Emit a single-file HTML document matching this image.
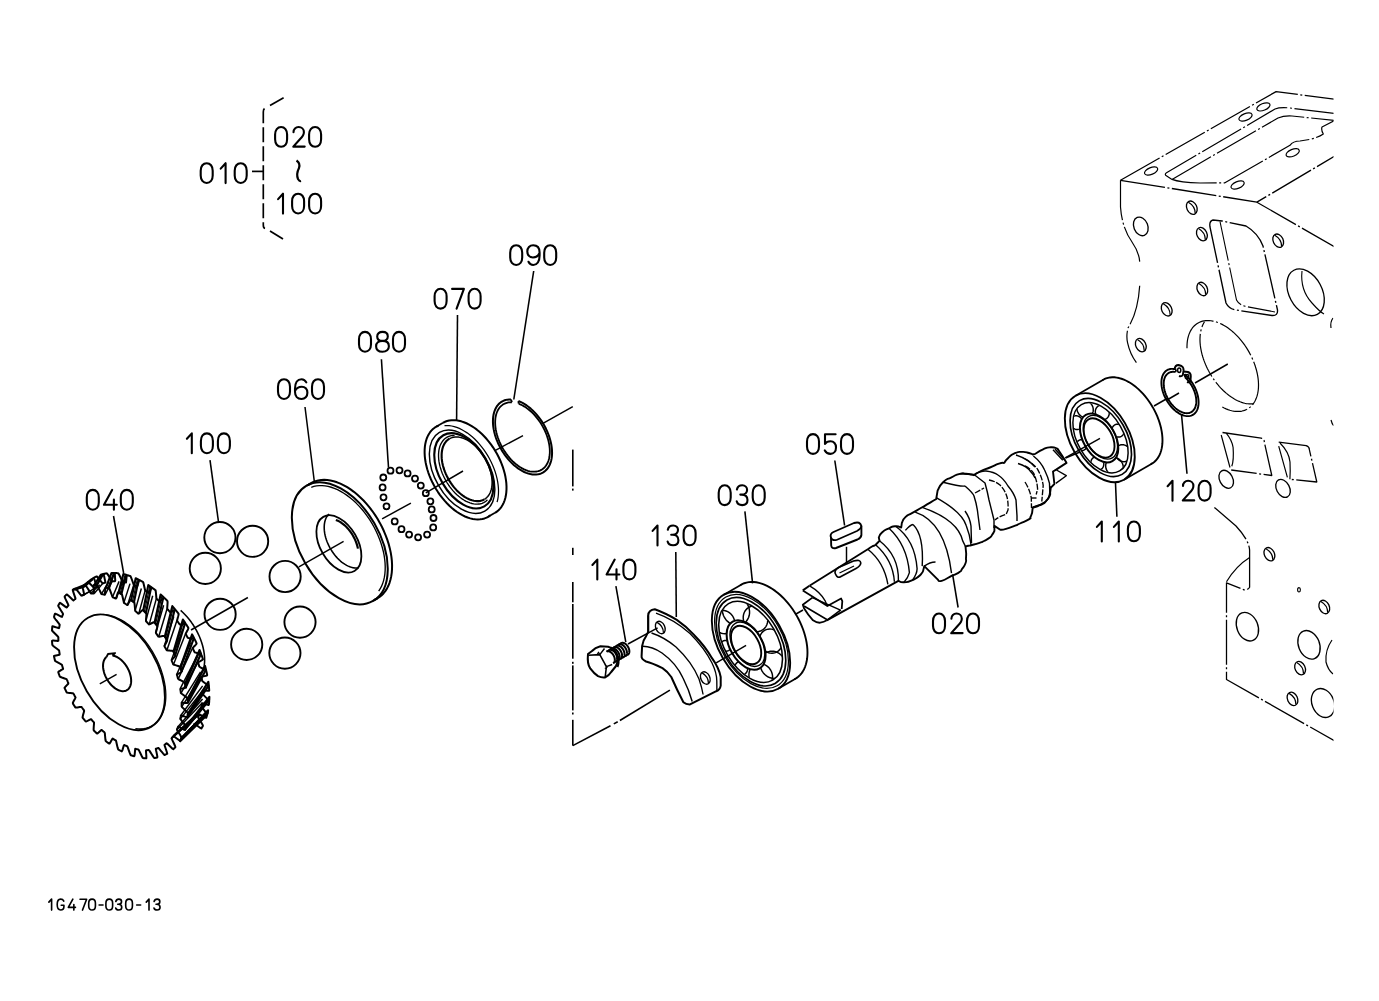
<!DOCTYPE html>
<html><head><meta charset="utf-8"><style>html,body{margin:0;padding:0;background:#fff;width:1379px;height:1001px;overflow:hidden}</style></head>
<body><svg width="1379" height="1001" viewBox="0 0 1379 1001" style="display:block">
<g fill="none" stroke="#000" stroke-width="1.68" stroke-linecap="butt" stroke-linejoin="round">
<defs><clipPath id="blkclip"><rect x="1100" y="80" width="233.5" height="680"/></clipPath><path id="g0" d="M8 1C11.6 1 14 4 14 8.5L14 13.3C14 17.8 11.6 20.8 8 20.8C4.4 20.8 2 17.8 2 13.3L2 8.5C2 4 4.4 1 8 1Z"/><path id="g1" d="M5.0 6.4L9.9 1L9.9 20.9"/><path id="g2" d="M3.4 6.2C3.4 3 5.6 1 8.5 1C11.5 1 13.8 3 13.8 6.2C13.8 9 12.3 10.8 9.8 13.3L3.2 20.6L14.6 20.6"/><path id="g3" d="M3.2 5.2C3.8 2.5 5.8 1 8.6 1C11.5 1 13.4 3 13.4 5.6C13.4 8.6 11.2 10.3 7.8 10.3L6.6 10.3M7.8 10.3C11.5 10.3 13.8 12.5 13.8 15.8C13.8 19 11.5 20.8 8.5 20.8C5.6 20.8 3.6 19.3 3 17"/><path id="g4" d="M10.3 1L2.2 15.9L15 15.9M12.1 10.7L12.1 20.9"/><path id="g5" d="M13.6 1.1L3 1.1L3 10.8M3 10.8C4.2 9 6 8.2 8.5 8.2C11.8 8.2 14 10.5 14 14.3C14 18.3 11.6 20.8 8.5 20.8C5.8 20.8 3.9 19.3 2.8 17.3"/><path id="g6" d="M13.3 4.2C12.3 2.2 10.6 1 8.5 1C4.5 1 2 4.5 2 10.5L2 13.5C2 18 4.5 20.8 8.5 20.8C12 20.8 14.4 18.3 14.4 14.5C14.4 10.8 12 8.5 8.8 8.5C5.5 8.5 3.2 10.3 2 12.8"/><path id="g7" d="M2.5 1.1L14.3 1.1L7 20.9"/><path id="g8" d="M8.5 10C5.3 10 3.2 8.3 3.2 5.5C3.2 2.7 5.3 1 8.5 1C11.7 1 13.8 2.7 13.8 5.5C13.8 8.3 11.7 10 8.5 10C4.6 10 2.1 12 2.1 15.3C2.1 18.7 4.6 20.8 8.5 20.8C12.4 20.8 14.9 18.7 14.9 15.3C14.9 12 12.4 10 8.5 10Z"/><path id="g9" d="M3.3 17.6C4.3 19.6 6 20.8 8 20.8C12 20.8 14.4 17.3 14.4 11.3L14.4 8.3C14.4 3.8 12 1 8 1C4.5 1 2.1 3.5 2.1 7.3C2.1 11 4.5 13.3 7.7 13.3C11 13.3 13.3 11.3 14.4 8.8"/></defs>
<g stroke-width="2.1" stroke-linecap="round">
<use href="#g0" x="198.7" y="162.2"/>
<use href="#g1" x="215.7" y="162.2"/>
<use href="#g0" x="232.7" y="162.2"/>
<use href="#g0" x="273.1" y="126"/>
<use href="#g2" x="290.1" y="126"/>
<use href="#g0" x="307.1" y="126"/>
<use href="#g1" x="273.1" y="192.7"/>
<use href="#g0" x="290.1" y="192.7"/>
<use href="#g0" x="307.1" y="192.7"/>
<use href="#g0" x="508.2" y="244.2"/>
<use href="#g9" x="525.2" y="244.2"/>
<use href="#g0" x="542.2" y="244.2"/>
<use href="#g0" x="432.6" y="287.8"/>
<use href="#g7" x="449.6" y="287.8"/>
<use href="#g0" x="466.6" y="287.8"/>
<use href="#g0" x="357" y="330.9"/>
<use href="#g8" x="374" y="330.9"/>
<use href="#g0" x="391" y="330.9"/>
<use href="#g0" x="276" y="378.2"/>
<use href="#g6" x="293" y="378.2"/>
<use href="#g0" x="310" y="378.2"/>
<use href="#g1" x="181.9" y="432.4"/>
<use href="#g0" x="198.9" y="432.4"/>
<use href="#g0" x="215.9" y="432.4"/>
<use href="#g0" x="84.8" y="488.9"/>
<use href="#g4" x="101.8" y="488.9"/>
<use href="#g0" x="118.8" y="488.9"/>
<use href="#g0" x="805" y="433.1"/>
<use href="#g5" x="822" y="433.1"/>
<use href="#g0" x="839" y="433.1"/>
<use href="#g0" x="716.7" y="484.3"/>
<use href="#g3" x="733.7" y="484.3"/>
<use href="#g0" x="750.7" y="484.3"/>
<use href="#g1" x="647.6" y="524.5"/>
<use href="#g3" x="664.6" y="524.5"/>
<use href="#g0" x="681.6" y="524.5"/>
<use href="#g1" x="587.4" y="558.6"/>
<use href="#g4" x="604.4" y="558.6"/>
<use href="#g0" x="621.4" y="558.6"/>
<use href="#g0" x="931" y="612.5"/>
<use href="#g2" x="948" y="612.5"/>
<use href="#g0" x="965" y="612.5"/>
<use href="#g1" x="1091.9" y="520.5"/>
<use href="#g1" x="1108.9" y="520.5"/>
<use href="#g0" x="1125.9" y="520.5"/>
<use href="#g1" x="1162.6" y="479.8"/>
<use href="#g2" x="1179.6" y="479.8"/>
<use href="#g0" x="1196.6" y="479.8"/>
</g>
<defs><path id="gG" d="M13.8 4.5C12.8 2.3 10.8 1 8 1C4.2 1 2 4.5 2 10.9C2 17.3 4.4 20.8 8.2 20.8C11.6 20.8 14 18.2 14 14.3L14 12.2L9.2 12.2"/><path id="g-" d="M4.5 11.5L11.5 11.5"/></defs>
<g stroke-width="2.9" stroke-linecap="round">
<use href="#g1" transform="translate(46.06,898.6) scale(0.56,0.55)"/>
<use href="#gG" transform="translate(56.08,898.6) scale(0.56,0.55)"/>
<use href="#g4" transform="translate(67.07,898.6) scale(0.56,0.55)"/>
<use href="#g7" transform="translate(78.6,898.6) scale(0.56,0.55)"/>
<use href="#g0" transform="translate(87.58,898.6) scale(0.56,0.55)"/>
<use href="#g-" transform="translate(96.58,898.6) scale(0.56,0.55)"/>
<use href="#g0" transform="translate(104.78,898.6) scale(0.56,0.55)"/>
<use href="#g3" transform="translate(114.02,898.6) scale(0.56,0.55)"/>
<use href="#g0" transform="translate(124.58,898.6) scale(0.56,0.55)"/>
<use href="#g-" transform="translate(134.18,898.6) scale(0.56,0.55)"/>
<use href="#g1" transform="translate(143.46,898.6) scale(0.56,0.55)"/>
<use href="#g3" transform="translate(152.32,898.6) scale(0.56,0.55)"/>
</g>
<g stroke-width="1.68">
<path d="M283.6 97.8 L270 105.5" />
<path d="M264.5 108.5 Q263.3 109.5 263.3 112 L263.3 225 Q263.3 228 265 228.5" stroke-dasharray="15 4"/>
<path d="M270 231 L283 239" />
<line x1="252" y1="171.4" x2="263.3" y2="171.4" />
</g>
<path d="M296.5 160.5 Q300.5 163 299 168 Q296 174 298 179 Q299.5 181.5 301 181" stroke-width="2.2" />
<g stroke-width="1.57">
<line x1="533.7" y1="271" x2="513.8" y2="399.5" />
<line x1="457.5" y1="315" x2="456.6" y2="420" />
<line x1="381.4" y1="359.2" x2="388.5" y2="467.5" />
<line x1="305" y1="407" x2="314.5" y2="483" />
<line x1="210" y1="460.1" x2="218.5" y2="522" />
<line x1="113.5" y1="516" x2="123.6" y2="573" />
<line x1="834.8" y1="460.5" x2="844.6" y2="525.5" />
<line x1="744.9" y1="511.3" x2="752.6" y2="583.4" />
<line x1="675.8" y1="551.9" x2="676.3" y2="616.9" />
<line x1="615.9" y1="586.1" x2="625.8" y2="642.1" />
<line x1="958.1" y1="607.5" x2="952.6" y2="574.4" />
<line x1="1116.9" y1="516.8" x2="1115.5" y2="483" />
<line x1="1187" y1="473.7" x2="1181.5" y2="414.5" />
</g>
<g stroke-width="1.46">
<line x1="99.8" y1="683.8" x2="116.6" y2="674.3" />
<line x1="191" y1="630" x2="247.9" y2="597.5" />
<line x1="298.9" y1="566.9" x2="343.6" y2="541.3" />
<line x1="382.1" y1="518.8" x2="410.9" y2="503.1" />
<line x1="425.8" y1="492.8" x2="463" y2="471" />
<line x1="495.4" y1="450.3" x2="523" y2="435.6" />
<line x1="542.5" y1="423.7" x2="572.8" y2="406.6" />
<line x1="628" y1="644" x2="657.6" y2="627.9" />
<line x1="716.2" y1="662.9" x2="746.1" y2="645.3" />
<line x1="1065.2" y1="457.9" x2="1100" y2="438.3" />
<line x1="1154" y1="406" x2="1168" y2="398" />
<line x1="1167" y1="400" x2="1179" y2="393" />
<line x1="1195" y1="383" x2="1227.8" y2="364" />
<line x1="1065.6" y1="458" x2="1080" y2="452" />
<line x1="796" y1="614" x2="803" y2="610" />
</g>
<g stroke-width="1.62">
<line x1="572.8" y1="449.6" x2="572.8" y2="486.4" />
<line x1="572.8" y1="488.6" x2="572.8" y2="490.6" />
<line x1="572.8" y1="547.8" x2="572.8" y2="555" />
<line x1="572.8" y1="582" x2="572.8" y2="602.3" />
<line x1="572.8" y1="604" x2="572.8" y2="658.7" />
<line x1="572.8" y1="661.8" x2="572.8" y2="663.8" />
<line x1="572.8" y1="665.4" x2="572.8" y2="710.4" />
<line x1="572.8" y1="712.5" x2="572.8" y2="714.5" />
<line x1="572.8" y1="719.8" x2="572.8" y2="745.6" />
<path d="M572.8 745.6 L610.5 725.8" />
<line x1="613.8" y1="723.9" x2="617.7" y2="721.7" />
<line x1="619.9" y1="720.5" x2="669.9" y2="690.1" />
</g>
<g stroke-width="1.9">
<circle cx="219.9" cy="537.6" r="15.6" />
<circle cx="252.6" cy="541.3" r="15.6" />
<circle cx="205.3" cy="568.4" r="15.6" />
<circle cx="285.1" cy="576.5" r="15.6" />
<circle cx="220.1" cy="614.3" r="15.6" />
<circle cx="300" cy="622.1" r="15.6" />
<circle cx="246.7" cy="644.4" r="15.6" />
<circle cx="284.9" cy="653.1" r="15.6" />
</g>
<g stroke-width="1.79">
<circle cx="390.5" cy="470.7" r="3" />
<circle cx="399.5" cy="470.3" r="3" />
<circle cx="407.6" cy="473.4" r="3" />
<circle cx="415" cy="478.6" r="3" />
<circle cx="420.8" cy="485.6" r="3" />
<circle cx="425.8" cy="493.2" r="3" />
<circle cx="430.4" cy="501.3" r="3" />
<circle cx="431.7" cy="509.4" r="3" />
<circle cx="433.5" cy="518" r="3" />
<circle cx="433.2" cy="527.4" r="3" />
<circle cx="427.1" cy="534.6" r="3" />
<circle cx="418.1" cy="537.3" r="3" />
<circle cx="409.1" cy="534.6" r="3" />
<circle cx="401.5" cy="529.2" r="3" />
<circle cx="394.7" cy="521.4" r="3" />
<circle cx="386.5" cy="506.3" r="3" />
<circle cx="383.5" cy="497.3" r="3" />
<circle cx="382.6" cy="487.4" r="3" />
<circle cx="383.3" cy="477.5" r="3" />
</g>
<ellipse cx="339.8" cy="543.3" rx="66.5" ry="39.9" transform="rotate(60 339.8 543.3)" stroke-width="2.01" />
<path d="M308 485.17 L310.31 483.55 L312.79 482.22 L315.42 481.18 L318.2 480.44 L321.11 479.99 L324.14 479.85 L327.26 480.01 L330.46 480.48 L333.74 481.25 L337.06 482.31 L340.43 483.66 L343.81 485.3 L347.19 487.21 L350.55 489.39 L353.89 491.83 L357.17 494.51 L360.39 497.42 L363.53 500.54 L366.58 503.87 L369.51 507.38 L372.31 511.05 L374.98 514.88 L377.49 518.83 L379.84 522.89 L382 527.05 L383.98 531.27 L385.76 535.53 L387.34 539.83 L388.7 544.13 L389.83 548.41 L390.74 552.65 L391.42 556.84 L391.86 560.94 L392.07 564.95 L392.03 568.83 L391.76 572.58 L391.25 576.16 L390.51 579.58 L389.54 582.79 L388.34 585.8 L386.92 588.59 L385.28 591.14 L383.44 593.43 L381.41 595.47 L379.19 597.23 L376.8 598.72 L374.24 599.91" stroke-width="2.01" />
<path d="M311.27 487.3 L313.81 486.46 L316.47 485.89 L319.25 485.6 L322.12 485.59 L325.09 485.86 L328.12 486.42 L331.21 487.25 L334.34 488.35 L337.5 489.72 L340.67 491.36 L343.84 493.24 L346.99 495.37 L350.1 497.73 L353.16 500.32 L356.16 503.11 L359.07 506.1 L361.9 509.27 L364.61 512.61 L367.21 516.1 L369.67 519.72 L371.98 523.45 L374.14 527.28 L376.13 531.19 L377.94 535.16 L379.57 539.17 L381.01 543.19 L382.24 547.22 L383.27 551.23 L384.08 555.2 L384.68 559.11 L385.06 562.95 L385.22 566.69 L385.16 570.31 L384.88 573.81 L384.38 577.15 L383.66 580.33 L382.73 583.33 L381.59 586.14 L380.24 588.73 L378.7 591.11" stroke-width="1.35" />
<line x1="373.05" y1="600.89" x2="377.38" y2="598.39" stroke-width="1.79" />
<line x1="306.55" y1="485.71" x2="310.88" y2="483.21" stroke-width="1.79" />
<ellipse cx="338.9" cy="543.9" rx="31.2" ry="18.72" transform="rotate(60 338.9 543.9)" stroke-width="1.79" />
<path d="M358.58 567.78 L357.22 567.95 L355.81 567.99 L354.35 567.89 L352.86 567.65 L351.33 567.27 L349.79 566.76 L348.22 566.12 L346.65 565.34 L345.08 564.44 L343.52 563.41 L341.98 562.27 L340.45 561.02 L338.96 559.66 L337.51 558.2 L336.1 556.65 L334.74 555.02 L333.44 553.31 L332.2 551.53 L331.04 549.7 L329.95 547.81 L328.94 545.88 L328.02 543.93 L327.19 541.95 L326.46 539.95 L325.82 537.96 L325.28 535.97 L324.85 534 L324.53 532.05 L324.31 530.14 L324.21 528.28 L324.21 526.47 L324.32 524.72 L324.54 523.04 L324.87 521.45 L325.31 519.94 L325.85 518.52 L326.49 517.21 L327.23 516.01 L328.06 514.92 L328.99 513.95" stroke-width="1.57" />
<path d="M335.87 519.92 L337.24 520.47 L338.63 521.12 L340.01 521.9 L341.39 522.78 L342.76 523.77 L344.1 524.85 L345.43 526.04 L346.72 527.31 L347.97 528.66 L349.17 530.09 L350.33 531.59 L351.42 533.15 L352.46 534.77 L353.42 536.43 L354.32 538.13 L355.13 539.85 L355.87 541.6 L356.52 543.36 L357.09 545.12 L357.56 546.87 L357.94 548.61" stroke-width="2.2" />
<path d="M490.36 515.3 L488.55 516.57 L486.61 517.61 L484.55 518.42 L482.37 519 L480.1 519.35 L477.73 519.46 L475.29 519.33 L472.79 518.97 L470.23 518.37 L467.62 517.54 L465 516.48 L462.35 515.2 L459.71 513.7 L457.08 512 L454.47 510.1 L451.9 508 L449.38 505.72 L446.93 503.28 L444.55 500.68 L442.26 497.93 L440.06 495.06 L437.98 492.07 L436.01 488.98 L434.18 485.8 L432.48 482.56 L430.94 479.26 L429.54 475.92 L428.31 472.56 L427.25 469.2 L426.36 465.85 L425.65 462.53 L425.12 459.26 L424.77 456.05 L424.61 452.92 L424.64 449.88 L424.85 446.95 L425.25 444.15 L425.83 441.48 L426.59 438.96 L427.53 436.61 L428.64 434.43 L429.92 432.44 L431.36 430.64 L432.95 429.05 L434.68 427.67 L436.56 426.51 L438.55 425.58" stroke-width="2.01" />
<path d="M443.03 422.77 L444.98 421.79 L447.04 421.03 L449.21 420.51 L451.48 420.21 L453.84 420.15 L456.27 420.31 L458.76 420.71 L461.3 421.34 L463.88 422.2 L466.48 423.27 L469.1 424.57 L471.71 426.07 L474.31 427.78 L476.89 429.68 L479.43 431.77 L481.92 434.04 L484.34 436.47 L486.69 439.05 L488.96 441.77 L491.12 444.62 L493.18 447.58 L495.12 450.64 L496.94 453.78 L498.62 456.99 L500.15 460.26 L501.54 463.56 L502.76 466.88 L503.82 470.21 L504.71 473.52 L505.43 476.81 L505.97 480.05 L506.33 483.23 L506.51 486.34 L506.5 489.36 L506.31 492.27 L505.94 495.06 L505.4 497.72 L504.67 500.24 L503.77 502.59 L502.7 504.78 L501.47 506.79 L500.08 508.61 L498.54 510.22 L496.85 511.64 L495.03 512.83" stroke-width="2.01" />
<path d="M444.5 425.63 L446.82 425.52 L449.22 425.63 L451.68 425.99 L454.2 426.57 L456.75 427.39 L459.34 428.43 L461.93 429.69 L464.53 431.17 L467.12 432.86 L469.68 434.74 L472.2 436.81 L474.67 439.06 L477.08 441.48 L479.41 444.05 L481.65 446.77 L483.79 449.61 L485.82 452.56 L487.73 455.61 L489.51 458.75 L491.15 461.95 L492.64 465.2 L493.98 468.49 L495.16 471.79 L496.16 475.09 L496.99 478.37 L497.65 481.63 L498.12 484.83 L498.41 487.96 L498.52 491.02 L498.43 493.97 L498.17 496.81 L497.72 499.53 L497.09 502.1" stroke-width="1.24" />
<line x1="488.1" y1="516.83" x2="495.03" y2="512.83" stroke-width="1.68" />
<line x1="436.1" y1="426.77" x2="443.03" y2="422.77" stroke-width="1.68" />
<ellipse cx="462.1" cy="471.8" rx="45.4" ry="27.24" transform="rotate(60 462.1 471.8)" stroke-width="1.46" />
<ellipse cx="463.83" cy="470.8" rx="41" ry="24.6" transform="rotate(60 463.83 470.8)" stroke-width="2.12" />
<path d="M487.41 499.83 L486.24 500.93 L484.96 501.88 L483.58 502.67 L482.12 503.29 L480.57 503.75 L478.95 504.04 L477.26 504.17 L475.51 504.12 L473.72 503.9 L471.88 503.51 L470.02 502.95 L468.13 502.23 L466.22 501.34 L464.32 500.3 L462.42 499.11 L460.54 497.78 L458.68 496.3 L456.85 494.7 L455.07 492.96 L453.34 491.12 L451.67 489.17 L450.07 487.12 L448.55 484.99 L447.11 482.78 L445.77 480.5 L444.52 478.18 L443.37 475.81 L442.34 473.41 L441.42 470.99 L440.63 468.57 L439.95 466.16 L439.4 463.76 L438.99 461.39 L438.7 459.06 L438.55 456.79 L438.53 454.58 L438.65 452.45 L438.9 450.4 L439.28 448.45 L439.79 446.61 L440.44 444.88 L441.2 443.28 L442.09 441.8 L443.09 440.47 L444.21 439.28 L445.43 438.24 L446.75 437.36 L448.16 436.64 L449.66 436.09 L451.24 435.7 L452.9 435.48 L454.61 435.43" stroke-width="1.35" />
<path d="M484.36 499.36 L483.05 500.02 L481.66 500.53 L480.2 500.88 L478.67 501.08 L477.09 501.12 L475.45 501.01 L473.78 500.74 L472.07 500.32 L470.33 499.74 L468.58 499.02 L466.82 498.15 L465.06 497.13 L463.31 495.99 L461.57 494.7 L459.86 493.3 L458.19 491.77 L456.56 490.14 L454.97 488.4 L453.45 486.57 L451.99 484.65 L450.61 482.66 L449.3 480.6 L448.08 478.49 L446.95 476.32 L445.91 474.13 L444.98 471.91 L444.16 469.67 L443.45 467.43 L442.85 465.2 L442.36 462.99 L442 460.81 L441.76 458.66 L441.64 456.57 L441.64 454.54 L441.77 452.58 L442.02 450.7 L442.38 448.91 L442.87 447.22 L443.48 445.63 L444.2 444.16 L445.03 442.81 L445.96 441.58 L447 440.5 L448.14 439.55 L449.36 438.74" stroke-width="2.12" />
<path d="M449.36 438.74 L450.67 438.08 L452.06 437.57 L453.53 437.22 L455.05 437.02 L456.64 436.98 L458.27 437.09 L459.95 437.36 L461.66 437.78 L463.4 438.36 L465.15 439.08 L466.91 439.95 L468.67 440.97 L470.42 442.11 L472.15 443.4 L473.86 444.8 L475.54 446.33 L477.17 447.96 L478.75 449.7 L480.28 451.53 L481.73 453.45 L483.12 455.44 L484.43 457.5 L485.65 459.61 L486.78 461.78 L487.81 463.97 L488.74 466.19 L489.57 468.43 L490.28 470.67 L490.88 472.9 L491.36 475.11 L491.73 477.29 L491.97 479.44 L492.09 481.53 L492.09 483.56 L491.96 485.52 L491.71 487.4 L491.34 489.19 L490.85 490.88 L490.25 492.47 L489.53 493.94 L488.7 495.29 L487.76 496.52 L486.72 497.6 L485.59 498.55 L484.36 499.36" stroke-width="1.46" />
<path d="M518.44 401.04 L520.5 401.9 L522.56 402.92 L524.63 404.11 L526.69 405.46 L528.73 406.97 L530.73 408.62 L532.7 410.42 L534.62 412.34 L536.47 414.38 L538.26 416.54 L539.97 418.79 L541.6 421.14 L543.13 423.56 L544.56 426.05 L545.89 428.59 L547.09 431.17 L548.18 433.78 L549.14 436.41 L549.97 439.04 L550.67 441.66 L551.23 444.26 L551.65 446.82 L551.92 449.33 L552.05 451.79 L552.04 454.17 L551.88 456.46 L551.58 458.66 L551.13 460.76 L550.55 462.74 L549.82 464.59 L548.97 466.31 L547.98 467.88 L546.87 469.3 L545.64 470.57 L544.29 471.67 L542.84 472.6 L541.29 473.35 L539.65 473.93 L537.92 474.32 L536.12 474.54 L534.25 474.57 L532.33 474.41 L530.35 474.07 L528.34 473.55 L526.29 472.85 L524.23 471.98 L522.17 470.93 L520.1 469.72 L518.04 468.35 L516.01 466.82 L514.01 465.15 L512.05 463.34 L510.14 461.4 L508.29 459.34 L506.51 457.17 L504.81 454.9 L503.19 452.55 L501.68 450.12 L500.26 447.62 L498.95 445.07 L497.76 442.49 L496.69 439.87 L495.74 437.25 L494.93 434.62 L494.25 432 L493.71 429.4 L493.31 426.85 L493.05 424.34 L492.94 421.9 L492.97 419.53 L493.15 417.24 L493.47 415.06 L493.94 412.98 L494.54 411.01 L495.28 409.18 L496.15 407.48 L497.16 405.92 L498.28 404.52 L499.53 403.28 L500.89 402.2 L502.35 401.3 L503.92 400.56 L505.57 400.01 L507.31 399.64 L509.12 399.45 L511 399.44" stroke-width="2.01" />
<path d="M518.74 403.76 L520.65 404.55 L522.56 405.5 L524.47 406.6 L526.37 407.85 L528.26 409.24 L530.11 410.77 L531.93 412.43 L533.7 414.2 L535.42 416.09 L537.07 418.09 L538.65 420.17 L540.16 422.34 L541.57 424.58 L542.89 426.88 L544.12 429.23 L545.23 431.61 L546.24 434.03 L547.13 436.46 L547.9 438.89 L548.54 441.31 L549.06 443.71 L549.44 446.08 L549.7 448.4 L549.82 450.67 L549.81 452.87 L549.66 454.99 L549.38 457.03 L548.97 458.96 L548.43 460.79 L547.76 462.5 L546.97 464.09 L546.05 465.55 L545.03 466.86 L543.89 468.03 L542.65 469.05 L541.31 469.9 L539.87 470.6 L538.35 471.14 L536.76 471.5 L535.09 471.7 L533.36 471.73 L531.58 471.58 L529.76 471.27 L527.9 470.79 L526.01 470.14 L524.1 469.33 L522.19 468.37 L520.28 467.25 L518.38 465.98 L516.5 464.57 L514.65 463.02 L512.84 461.35 L511.07 459.55 L509.36 457.65 L507.72 455.65 L506.15 453.55 L504.65 451.37 L503.25 449.13 L501.94 446.82 L500.73 444.46 L499.63 442.07 L498.64 439.66 L497.76 437.23 L497.01 434.8 L496.38 432.38 L495.88 429.98 L495.52 427.62 L495.28 425.3 L495.17 423.04 L495.21 420.85 L495.37 418.74 L495.67 416.72 L496.1 414.79 L496.65 412.98 L497.34 411.28 L498.15 409.71 L499.07 408.27 L500.11 406.98 L501.27 405.83 L502.52 404.83 L503.88 404 L505.32 403.32 L506.85 402.81 L508.46 402.46 L510.13 402.29 L511.87 402.28" stroke-width="1.79" />
<line x1="518.44" y1="401.04" x2="518.74" y2="403.76" stroke-width="1.9" />
<line x1="511" y1="399.44" x2="511.87" y2="402.28" stroke-width="1.9" />
<path d="M167.25 753.64 L166.91 753.84 L166.56 754.03 L166.21 754.22 L165.86 754.4 L165.51 754.58 L165.15 754.75 L164.79 754.93 L164.32 754.88 L163.21 753.62 L162.03 752.21 L160.85 750.76 L159.7 749.34 L158.64 748.04 L158.21 747.99 L157.87 748.12 L157.53 748.24 L157.19 748.36 L156.84 748.48 L156.5 748.59 L156.15 748.69 L155.8 748.8 L156.06 750.22 L156.41 751.88 L156.78 753.61 L157.12 755.32 L157.39 756.91 L157.21 757.5 L156.81 757.59 L156.41 757.67 L156.01 757.75 L155.6 757.82 L155.2 757.89 L154.79 757.95 L154.38 758.01 L153.58 757.09 L152.57 755.58 L151.53 753.98 L150.51 752.38 L149.55 750.87 L148.85 750.05 L148.47 750.07 L148.08 750.1 L147.7 750.12 L147.32 750.13 L146.93 750.15 L146.54 750.16 L146.15 750.16 L145.97 750.8 L146.07 752.33 L146.19 753.96 L146.3 755.6 L146.36 757.17 L146.3 758.35 L145.86 758.33 L145.41 758.3 L144.97 758.27 L144.53 758.23 L144.09 758.19 L143.64 758.14 L143.19 758.09 L142.66 757.74 L141.83 756.2 L140.98 754.52 L140.14 752.81 L139.33 751.15 L138.56 749.63 L138.13 749.46 L137.72 749.38 L137.3 749.3 L136.89 749.22 L136.47 749.13 L136.06 749.04 L135.64 748.95 L135.23 748.85 L135.08 750.15 L134.95 751.61 L134.81 753.13 L134.64 754.6 L134.44 755.94 L134.05 756.23 L133.58 756.09 L133.12 755.95 L132.65 755.8 L132.18 755.65 L131.71 755.5 L131.24 755.34 L130.78 755.18 L130.18 753.99 L129.53 752.31 L128.9 750.56 L128.28 748.82 L127.69 747.19 L127.19 746.29 L126.76 746.12 L126.34 745.94 L125.91 745.76 L125.48 745.58 L125.05 745.39 L124.62 745.2 L124.19 745.01 L123.8 745.49 L123.43 746.71 L123.05 748.03 L122.65 749.34 L122.23 750.56 L121.78 751.35 L121.31 751.11 L120.83 750.87 L120.35 750.62 L119.88 750.36 L119.4 750.11 L118.93 749.85 L118.45 749.58 L117.98 748.97 L117.55 747.36 L117.15 745.65 L116.76 743.91 L116.38 742.23 L116.02 740.69 L115.59 740.41 L115.16 740.14 L114.73 739.87 L114.3 739.6 L113.87 739.32 L113.45 739.04 L113.02 738.76 L112.58 738.53 L112.01 739.48 L111.41 740.53 L110.78 741.62 L110.14 742.66 L109.5 743.57 L108.99 743.52 L108.52 743.18 L108.05 742.84 L107.58 742.49 L107.11 742.14 L106.64 741.79 L106.18 741.43 L105.71 741.07 L105.45 739.78 L105.27 738.17 L105.12 736.51 L104.98 734.87 L104.85 733.32 L104.56 732.45 L104.14 732.1 L103.73 731.75 L103.31 731.39 L102.9 731.04 L102.49 730.68 L102.07 730.31 L101.66 729.95 L101.06 730.18 L100.27 730.94 L99.44 731.75 L98.59 732.55 L97.74 733.27 L97.03 733.58 L96.58 733.16 L96.13 732.73 L95.69 732.3 L95.24 731.86 L94.8 731.43 L94.36 730.99 L93.92 730.54 L93.63 729.78 L93.66 728.33 L93.75 726.8 L93.87 725.28 L93.98 723.81 L94.04 722.49 L93.65 722.07 L93.26 721.65 L92.87 721.23 L92.49 720.8 L92.1 720.37 L91.72 719.94 L91.34 719.51 L90.9 719.16 L89.97 719.6 L88.98 720.11 L87.95 720.62 L86.92 721.09 L85.93 721.46 L85.41 721.11 L85 720.62 L84.6 720.11 L84.19 719.61 L83.79 719.11 L83.38 718.6 L82.98 718.09 L82.58 717.58 L82.73 716.41 L83.04 715.08 L83.4 713.73 L83.77 712.41 L84.1 711.17 L84.02 710.4 L83.67 709.92 L83.32 709.44 L82.98 708.96 L82.64 708.48 L82.29 707.99 L81.95 707.51 L81.62 707.02 L80.84 706.93 L79.73 707.11 L78.55 707.31 L77.37 707.49 L76.22 707.61 L75.38 707.45 L75.02 706.9 L74.67 706.35 L74.31 705.79 L73.96 705.23 L73.61 704.67 L73.26 704.11 L72.92 703.55 L72.88 702.79 L73.38 701.69 L73.96 700.57 L74.56 699.46 L75.14 698.4 L75.57 697.45 L75.28 696.93 L74.98 696.41 L74.69 695.89 L74.4 695.37 L74.11 694.85 L73.82 694.33 L73.54 693.8 L73.12 693.34 L71.95 693.21 L70.7 693.09 L69.4 692.96 L68.13 692.79 L66.93 692.57 L66.52 692.03 L66.23 691.44 L65.94 690.85 L65.65 690.26 L65.36 689.67 L65.08 689.08 L64.8 688.48 L64.52 687.89 L65.11 687.06 L65.87 686.2 L66.69 685.35 L67.5 684.52 L68.25 683.74 L68.35 683.12 L68.12 682.58 L67.88 682.04 L67.66 681.49 L67.43 680.95 L67.21 680.41 L66.98 679.86 L66.77 679.32 L65.88 678.86 L64.59 678.44 L63.24 678 L61.89 677.54 L60.59 677.05 L59.77 676.49 L59.55 675.89 L59.34 675.29 L59.12 674.68 L58.91 674.08 L58.7 673.47 L58.49 672.87 L58.29 672.26 L58.55 671.66 L59.45 671.07 L60.44 670.51 L61.45 669.97 L62.42 669.45 L63.12 668.94 L62.96 668.39 L62.79 667.84 L62.63 667.3 L62.48 666.75 L62.32 666.21 L62.17 665.66 L62.03 665.12 L61.65 664.54 L60.4 663.85 L59.05 663.12 L57.67 662.36 L56.33 661.59 L55.09 660.82 L54.87 660.21 L54.73 659.61 L54.59 659.01 L54.46 658.41 L54.33 657.81 L54.21 657.22 L54.08 656.62 L53.97 656.03 L54.94 655.7 L56.05 655.43 L57.22 655.2 L58.37 654.98 L59.43 654.76 L59.67 654.31 L59.58 653.78 L59.5 653.25 L59.42 652.72 L59.34 652.19 L59.26 651.66 L59.19 651.13 L59.12 650.6 L58.22 649.78 L56.93 648.8 L55.58 647.78 L54.24 646.74 L52.98 645.71 L52.32 644.9 L52.27 644.33 L52.22 643.75 L52.17 643.18 L52.12 642.61 L52.08 642.04 L52.05 641.48 L52.01 640.91 L52.55 640.61 L53.73 640.62 L55 640.69 L56.28 640.79 L57.5 640.88 L58.37 640.81 L58.36 640.31 L58.35 639.81 L58.35 639.31 L58.35 638.81 L58.35 638.32 L58.35 637.83 L58.36 637.33 L58.07 636.67 L56.9 635.5 L55.64 634.26 L54.36 632.98 L53.13 631.71 L52.02 630.49 L52.03 629.95 L52.07 629.42 L52.1 628.9 L52.15 628.37 L52.19 627.85 L52.24 627.33 L52.29 626.81 L52.4 626.33 L53.59 626.59 L54.91 626.95 L56.26 627.36 L57.59 627.77 L58.82 628.14 L59.16 627.87 L59.23 627.42 L59.3 626.97 L59.38 626.53 L59.46 626.08 L59.54 625.64 L59.63 625.2 L59.72 624.76 L58.92 623.62 L57.8 622.21 L56.64 620.74 L55.49 619.27 L54.43 617.85 L54.03 616.95 L54.15 616.48 L54.27 616.02 L54.4 615.56 L54.53 615.1 L54.66 614.64 L54.8 614.19 L54.94 613.74 L55.69 613.84 L56.99 614.45 L58.36 615.15 L59.74 615.88 L61.05 616.56 L61.95 616.88 L62.1 616.49 L62.25 616.11 L62.4 615.72 L62.56 615.34 L62.72 614.96 L62.88 614.59 L63.04 614.22 L62.86 613.5 L61.94 612.01 L60.94 610.41 L59.94 608.78 L58.98 607.19 L58.19 605.75 L58.39 605.36 L58.6 604.98 L58.81 604.59 L59.02 604.21 L59.23 603.84 L59.45 603.46 L59.67 603.09 L59.99 602.84 L61.23 603.66 L62.56 604.6 L63.92 605.6 L65.25 606.59 L66.48 607.48 L66.88 607.38 L67.1 607.07 L67.32 606.76 L67.54 606.46 L67.77 606.16 L68 605.86 L68.23 605.57 L68.47 605.28 L67.89 603.92 L67.1 602.28 L66.28 600.56 L65.48 598.86 L64.77 597.24 L64.66 596.42 L64.94 596.13 L65.22 595.83 L65.51 595.55 L65.79 595.26 L66.08 594.98 L66.38 594.7 L66.67 594.43 L67.52 594.96 L68.76 596.1 L70.05 597.33 L71.34 598.58 L72.56 599.76 L73.4 600.38 L73.68 600.16 L73.97 599.94 L74.26 599.72 L74.54 599.51 L74.84 599.3 L75.13 599.1 L75.43 598.89 L75.41 598.18 L74.86 596.56 L74.26 594.83 L73.66 593.07 L73.12 591.38 L72.75 589.96 L73.09 589.76 L73.44 589.57 L73.79 589.38 L74.14 589.2 L74.49 589.02 L74.85 588.85 L75.21 588.67 L75.68 588.72 L76.79 589.98 L77.97 591.39 L79.15 592.84 L80.3 594.26 L81.36 595.56 L81.79 595.61 L82.13 595.48 L82.47 595.36 L82.81 595.24 L83.16 595.12 L83.5 595.01 L83.85 594.91 L84.2 594.8 L83.94 593.38 L83.59 591.72 L83.22 589.99 L82.88 588.28 L82.61 586.69 L82.79 586.1 L83.19 586.01 L83.59 585.93 L83.99 585.85 L84.4 585.78 L84.8 585.71 L85.21 585.65 L85.62 585.59 L86.42 586.51 L87.43 588.02 L88.47 589.62 L89.49 591.22 L90.45 592.73 L91.15 593.55 L91.53 593.53 L91.92 593.5 L92.3 593.48 L92.68 593.47 L93.07 593.45 L93.46 593.44 L93.85 593.44 L94.03 592.8 L93.93 591.27 L93.81 589.64 L93.7 588 L93.64 586.43 L93.7 585.25 L94.14 585.27 L94.59 585.3 L95.03 585.33 L95.47 585.37 L95.91 585.41 L96.36 585.46 L96.81 585.51 L97.34 585.86 L98.17 587.4 L99.02 589.08 L99.86 590.79 L100.67 592.45 L101.44 593.97 L101.87 594.14 L102.28 594.22 L102.7 594.3 L103.11 594.38 L103.53 594.47 L103.94 594.56 L104.36 594.65 L104.77 594.75 L104.92 593.45 L105.05 591.99 L105.19 590.47 L105.36 589 L105.56 587.66 L105.95 587.37 L106.42 587.51 L106.88 587.65 L107.35 587.8 L107.82 587.95 L108.29 588.1 L108.76 588.26 L109.22 588.42 L109.82 589.61 L110.47 591.29 L111.1 593.04 L111.72 594.78 L112.31 596.41 L112.81 597.31 L113.24 597.48 L113.66 597.66 L114.09 597.84 L114.52 598.02 L114.95 598.21 L115.38 598.4 L115.81 598.59 L116.2 598.11 L116.57 596.89 L116.95 595.57 L117.35 594.26 L117.77 593.04 L118.22 592.25 L118.69 592.49 L119.17 592.73 L119.65 592.98 L120.12 593.24 L120.6 593.49 L121.07 593.75 L121.55 594.02 L122.02 594.63 L122.45 596.24 L122.85 597.95 L123.24 599.69 L123.62 601.37 L123.98 602.91 L124.41 603.19 L124.84 603.46 L125.27 603.73 L125.7 604 L126.13 604.28 L126.55 604.56 L126.98 604.84 L127.42 605.07 L127.99 604.12 L128.59 603.07 L129.22 601.98 L129.86 600.94 L130.5 600.03 L131.01 600.08 L131.48 600.42 L131.95 600.76 L132.42 601.11 L132.89 601.46 L133.36 601.81 L133.82 602.17 L134.29 602.53 L134.55 603.82 L134.73 605.43 L134.88 607.09 L135.02 608.73 L135.15 610.28 L135.44 611.15 L135.86 611.5 L136.27 611.85 L136.69 612.21 L137.1 612.56 L137.51 612.92 L137.93 613.29 L138.34 613.65 L138.94 613.42 L139.73 612.66 L140.56 611.85 L141.41 611.05 L142.26 610.33 L142.97 610.02 L143.42 610.44 L143.87 610.87 L144.31 611.3 L144.76 611.74 L145.2 612.17 L145.64 612.61 L146.08 613.06 L146.37 613.82 L146.34 615.27 L146.25 616.8 L146.13 618.32 L146.02 619.79 L145.96 621.11 L146.35 621.53 L146.74 621.95 L147.13 622.37 L147.51 622.8 L147.9 623.23 L148.28 623.66 L148.66 624.09 L149.1 624.44 L150.03 624 L151.02 623.49 L152.05 622.98 L153.08 622.51 L154.07 622.14 L154.59 622.49 L155 622.98 L155.4 623.49 L155.81 623.99 L156.21 624.49 L156.62 625 L157.02 625.51 L157.42 626.02 L157.27 627.19 L156.96 628.52 L156.6 629.87 L156.23 631.19 L155.9 632.43 L155.98 633.2 L156.33 633.68 L156.68 634.16 L157.02 634.64 L157.36 635.12 L157.71 635.61 L158.05 636.09 L158.38 636.58 L159.16 636.67 L160.27 636.49 L161.45 636.29 L162.63 636.11 L163.78 635.99 L164.62 636.15 L164.98 636.7 L165.33 637.25 L165.69 637.81 L166.04 638.37 L166.39 638.93 L166.74 639.49 L167.08 640.05 L167.12 640.81 L166.62 641.91 L166.04 643.03 L165.44 644.14 L164.86 645.2 L164.43 646.15 L164.72 646.67 L165.02 647.19 L165.31 647.71 L165.6 648.23 L165.89 648.75 L166.18 649.27 L166.46 649.8 L166.88 650.26 L168.05 650.39 L169.3 650.51 L170.6 650.64 L171.87 650.81 L173.07 651.03 L173.48 651.57 L173.77 652.16 L174.06 652.75 L174.35 653.34 L174.64 653.93 L174.92 654.52 L175.2 655.12 L175.48 655.71 L174.89 656.54 L174.13 657.4 L173.31 658.25 L172.5 659.08 L171.75 659.86 L171.65 660.48 L171.88 661.02 L172.12 661.56 L172.34 662.11 L172.57 662.65 L172.79 663.19 L173.02 663.74 L173.23 664.28 L174.12 664.74 L175.41 665.16 L176.76 665.6 L178.11 666.06 L179.41 666.55 L180.23 667.11 L180.45 667.71 L180.66 668.31 L180.88 668.92 L181.09 669.52 L181.3 670.13 L181.51 670.73 L181.71 671.34 L181.45 671.94 L180.55 672.53 L179.56 673.09 L178.55 673.63 L177.58 674.15 L176.88 674.66 L177.04 675.21 L177.21 675.76 L177.37 676.3 L177.52 676.85 L177.68 677.39 L177.83 677.94 L177.97 678.48 L178.35 679.06 L179.6 679.75 L180.95 680.48 L182.33 681.24 L183.67 682.01 L184.91 682.78 L185.13 683.39 L185.27 683.99 L185.41 684.59 L185.54 685.19 L185.67 685.79 L185.79 686.38 L185.92 686.98 L186.03 687.57 L185.06 687.9 L183.95 688.17 L182.78 688.4 L181.63 688.62 L180.57 688.84 L180.33 689.29 L180.42 689.82 L180.5 690.35 L180.58 690.88 L180.66 691.41 L180.74 691.94 L180.81 692.47 L180.88 693 L181.78 693.82 L183.07 694.8 L184.42 695.82 L185.76 696.86 L187.02 697.89 L187.68 698.7 L187.73 699.27 L187.78 699.85 L187.83 700.42 L187.88 700.99 L187.92 701.56 L187.95 702.12 L187.99 702.69 L187.45 702.99 L186.27 702.98 L185 702.91 L183.72 702.81 L182.5 702.72 L181.63 702.79 L181.64 703.29 L181.65 703.79 L181.65 704.29 L181.65 704.79 L181.65 705.28 L181.65 705.77 L181.64 706.27 L181.93 706.93 L183.1 708.1 L184.36 709.34 L185.64 710.62 L186.87 711.89 L187.98 713.11 L187.97 713.65 L187.93 714.18 L187.9 714.7 L187.85 715.23 L187.81 715.75 L187.76 716.27 L187.71 716.79 L187.6 717.27 L186.41 717.01 L185.09 716.65 L183.74 716.24 L182.41 715.83 L181.18 715.46 L180.84 715.73 L180.77 716.18 L180.7 716.63 L180.62 717.07 L180.54 717.52 L180.46 717.96 L180.37 718.4 L180.28 718.84 L181.08 719.98 L182.2 721.39 L183.36 722.86 L184.51 724.33 L185.57 725.75 L185.97 726.65 L185.85 727.12 L185.73 727.58 L185.6 728.04 L185.47 728.5 L185.34 728.96 L185.2 729.41 L185.06 729.86 L184.31 729.76 L183.01 729.15 L181.64 728.45 L180.26 727.72 L178.95 727.04 L178.05 726.72 L177.9 727.11 L177.75 727.49 L177.6 727.88 L177.44 728.26 L177.28 728.64 L177.12 729.01 L176.96 729.38 L177.14 730.1 L178.06 731.59 L179.06 733.19 L180.06 734.82 L181.02 736.41 L181.81 737.85 L181.61 738.24 L181.4 738.62 L181.19 739.01 L180.98 739.39 L180.77 739.76 L180.55 740.14 L180.33 740.51 L180.01 740.76 L178.77 739.94 L177.44 739 L176.08 738 L174.75 737.01 L173.52 736.12 L173.12 736.22 L172.9 736.53 L172.68 736.84 L172.46 737.14 L172.23 737.44 L172 737.74 L171.77 738.03 L171.53 738.32 L172.11 739.68 L172.9 741.32 L173.72 743.04 L174.52 744.74 L175.23 746.36 L175.34 747.18 L175.06 747.47 L174.78 747.77 L174.49 748.05 L174.21 748.34 L173.92 748.62 L173.62 748.9 L173.33 749.17 L172.48 748.64 L171.24 747.5 L169.95 746.27 L168.66 745.02 L167.44 743.84 L166.6 743.22 L166.32 743.44 L166.03 743.66 L165.74 743.88 L165.46 744.09 L165.16 744.3 L164.87 744.5 L164.57 744.71 L164.59 745.42 L165.14 747.04 L165.74 748.77 L166.34 750.53 L166.88 752.22 L167.25 753.64 Z" stroke-width="2.01" />
<path d="M87.59 582.45 L87.89 582.18 L88.74 582.72 L89.98 583.85 L91.28 585.09 L92.56 586.34 L93.78 587.51 L94.62 588.13 L94.9 587.91 L95.19 587.69 L95.48 587.47 L95.77 587.26 L96.06 587.05 L96.35 586.84 L96.65 586.64 L96.62 585.9 L96.07 584.28 L95.47 582.55 L94.87 580.79 L94.33 579.1 L93.98 577.71 L94.32 577.51 L94.67 577.32 L95.02 577.13 L95.37 576.95 L95.72 576.77 L96.08 576.59 L96.43 576.42 L96.93 576.51 L98.05 577.78 L99.22 579.19 L100.41 580.64 L101.55 582.06 L102.62 583.35 L103.02 583.35 L103.36 583.22 L103.7 583.1 L104.04 582.98 L104.39 582.87 L104.73 582.76 L105.08 582.65 L105.43 582.55 L105.15 581.06 L104.79 579.38 L104.42 577.65 L104.09 575.95 L103.82 574.37 L104.03 573.84 L104.43 573.76 L104.83 573.68 L105.23 573.6 L105.64 573.53 L106.05 573.46 L106.45 573.4 L106.86 573.34 L107.7 574.36 L108.72 575.87 L109.75 577.48 L110.77 579.08 L111.73 580.58 L112.4 581.3 L112.78 581.27 L113.16 581.25 L113.54 581.23 L113.93 581.21 L114.32 581.2 L114.71 581.19 L115.1 581.19 L115.24 580.43 L115.14 578.9 L115.02 577.26 L114.91 575.61 L114.85 574.06 L114.96 573 L115.4 573.02 L115.84 573.05 L116.28 573.09 L116.73 573.12 L117.17 573.16 L117.62 573.21 L118.07 573.26 L118.63 573.75 L119.46 575.31 L120.32 576.99 L121.16 578.7 L121.97 580.36 L122.72 581.83 L123.13 581.9 L123.54 581.98 L123.96 582.06 L124.37 582.14 L124.79 582.23 L125.2 582.32 L125.62 582.41 L126.01 582.38 L126.15 581.04 L126.29 579.57 L126.43 578.06 L126.59 576.59 L126.8 575.27 L127.22 575.14 L127.69 575.28 L128.16 575.42 L128.62 575.56 L129.09 575.71 L129.56 575.87 L130.03 576.03 L130.5 576.19 L131.12 577.57 L131.76 579.26 L132.4 581.01 L133.01 582.74 L133.6 584.36 L134.08 585.09 L134.51 585.26 L134.94 585.43 L135.37 585.61 L135.8 585.8 L136.23 585.98 L136.66 586.17 L137.09 586.37 L137.47 585.7 L137.84 584.45 L138.23 583.14 L138.63 581.83 L139.05 580.63 L139.51 580.03 L139.98 580.28 L140.46 580.52 L140.93 580.77 L141.41 581.02 L141.89 581.28 L142.36 581.54 L142.84 581.81 L143.3 582.62 L143.73 584.25 L144.13 585.98 L144.52 587.71 L144.89 589.38 L145.27 590.72 L145.7 590.99 L146.13 591.25 L146.56 591.52 L146.99 591.8 L147.41 592.07 L147.84 592.35 L148.27 592.64 L148.73 592.67 L149.31 591.7 L149.92 590.63 L150.55 589.55 L151.19 588.52 L151.83 587.63 L152.32 587.89 L152.79 588.23 L153.25 588.57 L153.72 588.92 L154.19 589.27 L154.66 589.63 L155.12 589.99 L155.59 590.35 L155.81 591.86 L155.98 593.49 L156.13 595.16 L156.26 596.79 L156.4 598.31 L156.74 598.97 L157.15 599.32 L157.57 599.67 L157.98 600.03 L158.4 600.38 L158.81 600.74 L159.22 601.11 L159.64 601.47 L160.31 601.03 L161.12 600.25 L161.95 599.44 L162.81 598.65 L163.65 597.95 L164.28 597.86 L164.73 598.28 L165.18 598.71 L165.62 599.14 L166.07 599.58 L166.51 600.02 L166.95 600.46 L167.39 600.9 L167.59 601.88 L167.54 603.35 L167.44 604.88 L167.33 606.4 L167.22 607.85 L167.27 608.95 L167.66 609.37 L168.04 609.79 L168.43 610.22 L168.82 610.64 L169.2 611.07 L169.59 611.51 L169.97 611.94 L170.52 612.09 L171.47 611.63 L172.48 611.12 L173.52 610.61 L174.54 610.16 L175.49 609.86 L175.9 610.35 L176.31 610.85 L176.72 611.36 L177.13 611.86 L177.53 612.37 L177.93 612.88 L178.33 613.39 L178.66 613.98 L178.41 615.27 L178.09 616.6 L177.72 617.95 L177.36 619.26 L177.05 620.48 L177.29 621.08 L177.63 621.55 L177.98 622.03 L178.33 622.52 L178.67 623 L179.01 623.48 L179.35 623.97 L179.69 624.46 L180.66 624.38 L181.8 624.19 L182.98 623.99 L184.16 623.82 L185.29 623.73 L185.93 624.05 L186.29 624.6 L186.65 625.16 L187 625.71 L187.35 626.27 L187.7 626.83 L188.05 627.39 L188.39 627.95 L188.21 628.86 L187.68 629.97 L187.09 631.09 L186.49 632.19 L185.92 633.24 L185.73 634.05 L186.03 634.57 L186.32 635.08 L186.61 635.61 L186.9 636.13 L187.19 636.65 L187.48 637.18 L187.76 637.7 L188.43 638.05 L189.63 638.18 L190.9 638.3 L192.2 638.44 L193.46 638.62 L194.49 638.91 L194.79 639.5 L195.08 640.09 L195.37 640.68 L195.66 641.27 L195.94 641.86 L196.22 642.45 L196.5 643.05 L196.57 643.7 L195.88 644.56 L195.1 645.42 L194.27 646.26 L193.47 647.08 L192.76 647.85 L192.94 648.4 L193.18 648.94 L193.41 649.48 L193.63 650.03 L193.86 650.57 L194.08 651.12 L194.3 651.66 L194.54 652.2 L195.74 652.62 L197.06 653.05 L198.42 653.5 L199.77 653.97 L201.03 654.47 L201.52 655.06 L201.74 655.66 L201.95 656.26 L202.17 656.87 L202.38 657.48 L202.59 658.08 L202.79 658.69 L203 659.29 L202.38 659.89 L201.44 660.47 L200.44 661.03 L199.43 661.56 L198.49 662.08 L198.15 662.6 L198.32 663.15 L198.48 663.7 L198.64 664.24 L198.79 664.79 L198.95 665.34 L199.1 665.88 L199.24 666.43 L199.99 667.05 L201.29 667.76 L202.66 668.5 L204.04 669.26 L205.35 670.04 L206.26 670.76 L206.4 671.36 L206.54 671.96 L206.67 672.56 L206.8 673.16 L206.93 673.75 L207.06 674.35 L207.18 674.95 L206.92 675.45 L205.87 675.75 L204.73 676.01 L203.56 676.24 L202.44 676.45 L201.49 676.7 L201.58 677.24 L201.67 677.77 L201.75 678.3 L201.83 678.83 L201.91 679.36 L201.98 679.89 L202.05 680.42 L202.27 681 L203.48 681.94 L204.8 682.94 L206.16 683.97 L207.48 685.01 L208.7 686.03 L208.92 686.67 L208.97 687.25 L209.02 687.82 L209.07 688.39 L209.11 688.96 L209.15 689.53 L209.18 690.1 L209.22 690.66 L208.21 690.74 L206.98 690.71 L205.7 690.62 L204.43 690.52 L203.26 690.44 L202.86 690.74 L202.86 691.24 L202.87 691.74 L202.87 692.24 L202.87 692.74 L202.87 693.23 L202.86 693.73 L202.85 694.22 L203.62 695.15 L204.83 696.36 L206.11 697.63 L207.38 698.91 L208.58 700.16 L209.21 701.09 L209.17 701.62 L209.14 702.15 L209.1 702.68 L209.05 703.2 L209 703.72 L208.95 704.24 L208.9 704.76 L208.32 704.92 L207.07 704.61 L205.73 704.22 L204.37 703.81 L203.08 703.41 L202.1 703.22 L202.03 703.67 L201.96 704.12 L201.88 704.57 L201.8 705.02 L201.72 705.47 L201.64 705.91 L201.55 706.35 L201.73 707 L202.79 708.35 L203.94 709.79 L205.1 711.27 L206.22 712.73 L207.22 714.11 L207.14 714.61 L207.01 715.08 L206.89 715.54 L206.76 716 L206.63 716.46 L206.49 716.91 L206.35 717.37 L206.18 717.78 L204.94 717.24 L203.6 716.58 L202.21 715.86 L200.86 715.15 L199.6 714.51 L199.19 714.65 L199.05 715.04 L198.9 715.42 L198.74 715.81 L198.59 716.19 L198.43 716.56 L198.26 716.94 L198.1 717.31 L198.78 718.55 L199.75 720.1 L200.76 721.72 L201.75 723.34 L202.65 724.89 L202.93 725.79 L202.73 726.18 L202.52 726.56 L202.31 726.94 L202.1 727.32 L201.88 727.7 L201.66 728.07 L201.44 728.44 L200.63 728.13 L199.34 727.24 L197.98 726.26 L196.63 725.25 L195.34 724.31 L194.45 723.81 L194.23 724.12 L194.01 724.43" stroke-width="2.01" />
<path d="M181.63 738.19 L208.05 710.52 L207.43 713.44 L180.34 740.5 Z" stroke-width="2.12" />
<line x1="180.35" y1="738.64" x2="207.05" y2="711.44" stroke-width="1.13" />
<line x1="173.38" y1="735.84" x2="200.48" y2="710.76" stroke-width="1.46" />
<line x1="171.4" y1="738.48" x2="199.33" y2="714.28" stroke-width="1.46" />
<path d="M73.03 589.8 L83.7 586.73 L85.31 584.8 L75.17 588.69 Z" stroke-width="2.12" />
<line x1="74.58" y1="590.1" x2="85.09" y2="586.53" stroke-width="1.13" />
<line x1="81.36" y1="595.77" x2="92.11" y2="590.37" stroke-width="1.46" />
<line x1="84.36" y1="594.75" x2="94.47" y2="588.25" stroke-width="1.46" />
<path d="M82.91 586.07 L91.4 579.35 L93.42 578.04 L85.37 585.63 Z" stroke-width="2.12" />
<line x1="84.51" y1="586.74" x2="92.91" y2="579.53" stroke-width="1.13" />
<line x1="90.85" y1="593.58" x2="99.79" y2="584.78" stroke-width="1.46" />
<line x1="94.22" y1="593.44" x2="102.65" y2="583.49" stroke-width="1.46" />
<path d="M94.04 585.27 L100.79 574.71 L103.15 574.05 L96.74 585.5 Z" stroke-width="2.12" />
<line x1="95.65" y1="586.28" x2="102.38" y2="575.26" stroke-width="1.13" />
<line x1="101.33" y1="594.05" x2="108.89" y2="581.75" stroke-width="1.46" />
<line x1="104.95" y1="594.79" x2="112.15" y2="581.32" stroke-width="1.46" />
<path d="M106.06 587.4 L111.55 572.95 L114.19 572.97 L108.91 588.31 Z" stroke-width="2.12" />
<line x1="107.61" y1="588.73" x2="113.17" y2="573.86" stroke-width="1.13" />
<line x1="112.44" y1="597.17" x2="119.08" y2="581.36" stroke-width="1.46" />
<line x1="116.19" y1="598.76" x2="122.63" y2="581.81" stroke-width="1.46" />
<path d="M118.55 592.42 L123.33 574.15 L126.14 574.84 L121.45 593.96 Z" stroke-width="2.12" />
<line x1="120" y1="594" x2="124.91" y2="575.37" stroke-width="1.13" />
<line x1="123.82" y1="602.83" x2="130.03" y2="583.63" stroke-width="1.46" />
<line x1="127.56" y1="605.23" x2="133.75" y2="584.95" stroke-width="1.46" />
<path d="M131.1 600.14 L135.72 578.25 L138.61 579.59 L133.94 602.27 Z" stroke-width="2.12" />
<line x1="132.39" y1="601.93" x2="137.21" y2="579.75" stroke-width="1.13" />
<line x1="135.06" y1="610.84" x2="141.37" y2="588.49" stroke-width="1.46" />
<line x1="138.67" y1="613.95" x2="145.12" y2="590.63" stroke-width="1.46" />
<path d="M143.26 610.29 L148.29 585.12 L151.17 587.07 L145.96 612.94 Z" stroke-width="2.12" />
<line x1="144.36" y1="612.24" x2="149.64" y2="586.85" stroke-width="1.13" />
<line x1="145.79" y1="620.93" x2="152.69" y2="595.77" stroke-width="1.46" />
<line x1="149.15" y1="624.65" x2="156.36" y2="598.66" stroke-width="1.46" />
<path d="M154.64 622.54 L160.63 594.52 L163.39 597.01 L157.1 625.62 Z" stroke-width="2.12" />
<line x1="155.5" y1="624.57" x2="161.79" y2="596.43" stroke-width="1.13" />
<line x1="155.64" y1="632.74" x2="163.63" y2="605.22" stroke-width="1.46" />
<line x1="158.64" y1="636.96" x2="167.09" y2="608.76" stroke-width="1.46" />
<path d="M164.83 636.47 L172.3 606.14 L174.85 609.09 L166.97 639.87 Z" stroke-width="2.12" />
<line x1="165.42" y1="638.52" x2="173.24" y2="608.15" stroke-width="1.13" />
<line x1="164.28" y1="645.89" x2="173.8" y2="616.52" stroke-width="1.46" />
<line x1="166.81" y1="650.45" x2="176.93" y2="620.59" stroke-width="1.46" />
<path d="M173.5 651.61 L182.91 619.58 L185.17 622.88 L175.24 655.2 Z" stroke-width="2.12" />
<line x1="173.81" y1="653.6" x2="183.6" y2="621.63" stroke-width="1.13" />
<line x1="171.41" y1="659.92" x2="182.86" y2="629.29" stroke-width="1.46" />
<line x1="173.39" y1="664.66" x2="185.56" y2="633.75" stroke-width="1.46" />
<path d="M180.34 667.43 L192.11 634.38 L193.99 637.92 L181.63 671.11 Z" stroke-width="2.12" />
<line x1="180.36" y1="669.29" x2="192.51" y2="636.39" stroke-width="1.13" />
<line x1="176.79" y1="674.36" x2="190.51" y2="643.08" stroke-width="1.46" />
<line x1="178.14" y1="679.13" x2="192.67" y2="647.78" stroke-width="1.46" />
<path d="M185.13 683.39 L199.57 650.04 L201.01 653.7 L185.93 687.03 Z" stroke-width="2.12" />
<line x1="184.85" y1="685.07" x2="199.68" y2="651.95" stroke-width="1.13" />
<line x1="180.23" y1="688.7" x2="196.47" y2="657.44" stroke-width="1.46" />
<line x1="180.92" y1="693.34" x2="198.04" y2="662.22" stroke-width="1.46" />
<path d="M187.71 698.97 L205.04 666.02 L206 669.68 L187.97 702.44 Z" stroke-width="2.12" />
<line x1="187.14" y1="700.4" x2="204.86" y2="667.76" stroke-width="1.13" />
<line x1="181.63" y1="702.48" x2="200.56" y2="671.87" stroke-width="1.46" />
<line x1="181.63" y1="706.81" x2="201.47" y2="676.56" stroke-width="1.46" />
<path d="M187.97 713.62 L208.34 681.78 L208.78 685.31 L187.71 716.8 Z" stroke-width="2.12" />
<line x1="187.14" y1="714.76" x2="207.86" y2="683.3" stroke-width="1.13" />
<line x1="180.92" y1="715.2" x2="202.62" y2="685.88" stroke-width="1.46" />
<line x1="180.23" y1="719.1" x2="202.85" y2="690.33" stroke-width="1.46" />
<path d="M185.92 726.84 L209.36 696.78 L209.26 700.07 L185.13 729.63 Z" stroke-width="2.12" />
<line x1="184.85" y1="727.65" x2="208.6" y2="698.02" stroke-width="1.13" />
<line x1="178.14" y1="726.45" x2="202.6" y2="698.99" stroke-width="1.46" />
<line x1="176.78" y1="729.77" x2="202.13" y2="703.05" stroke-width="1.46" />
<path d="M181.63 738.19 L208.05 710.52 L207.43 713.44 L180.34 740.5 Z" stroke-width="2.12" />
<line x1="180.35" y1="738.64" x2="207.05" y2="711.44" stroke-width="1.13" />
<line x1="173.38" y1="735.84" x2="200.48" y2="710.76" stroke-width="1.46" />
<line x1="171.4" y1="738.48" x2="199.33" y2="714.28" stroke-width="1.46" />
<line x1="179.54" y1="741.77" x2="207.01" y2="715.1" stroke-width="2.01" />
<ellipse cx="119.5" cy="672.3" rx="63" ry="37.8" transform="rotate(60 119.5 672.3)" stroke-width="1.9" />
<path d="M102.54 614.42 L105.48 614.63 L108.49 615.11 L111.56 615.88 L114.67 616.92 L117.82 618.22 L120.98 619.79 L124.14 621.62 L127.29 623.7 L130.4 626.01 L133.46 628.54 L136.47 631.29 L139.39 634.24 L142.23 637.37 L144.95 640.67 L147.56 644.12 L150.04 647.71 L152.37 651.42 L154.55 655.22 L156.56 659.11 L158.4 663.06 L160.05 667.06 L161.51 671.07 L162.76 675.09 L163.81 679.09 L164.65 683.06 L165.27 686.97 L165.68 690.8 L165.86 694.54 L165.82 698.17 L165.56 701.67 L165.07 705.02 L164.37 708.2 L163.46 711.21 L162.34 714.02 L161.01 716.63 L159.48 719.01 L157.76 721.16 L155.86 723.06 L153.79 724.71 L151.55 726.1 L149.17 727.23 L146.64 728.08 L143.99 728.65 L141.22 728.94 L138.35 728.95 L135.4 728.68" stroke-width="1.24" />
<path d="M112.55 655.52 L113.49 655.7 L114.45 655.95 L115.43 656.3 L116.41 656.73 L117.4 657.24 L118.39 657.83 L119.37 658.49 L120.33 659.23 L121.29 660.04 L122.22 660.92 L123.12 661.85 L124 662.84 L124.84 663.88 L125.65 664.97 L126.41 666.1 L127.13 667.27 L127.8 668.47 L128.41 669.69 L128.97 670.92 L129.47 672.17 L129.91 673.43 L130.28 674.68 L130.59 675.93 L130.84 677.16 L131.01 678.38 L131.12 679.57 L131.16 680.73 L131.13 681.85 L131.03 682.93 L130.86 683.96 L130.63 684.94 L130.32 685.87 L129.96 686.73 L129.52 687.52 L129.03 688.25 L128.48 688.9 L127.87 689.47 L127.21 689.96 L126.5 690.38 L125.74 690.7 L124.94 690.95 L124.1 691.1 L123.23 691.17 L122.33 691.15 L121.4 691.04 L120.45 690.84 L119.48 690.56 L118.5 690.19 L117.52 689.74 L116.53 689.21 L115.55 688.6 L114.57 687.91 L113.6 687.15 L112.66 686.33 L111.73 685.44 L110.83 684.48 L109.96 683.48 L109.13 682.42 L108.34 681.32 L107.59 680.18 L106.88 679.01 L106.23 677.8 L105.63 676.58 L105.09 675.34 L104.61 674.09 L104.18 672.83 L103.83 671.58 L103.53 670.33 L103.31 669.1 L103.15 667.9 L103.06 666.71 L103.04 665.56 L103.09 664.45 L103.21 663.38 L103.39 662.37 L103.65 661.4 L103.97 660.49 L104.36 659.65 L104.8 658.87 L105.31 658.17 L105.88 657.54 L106.5 656.99" stroke-width="2.01" />
<path d="M106.5 656.99 L108 653.99 L115.05 653.02 L112.55 655.52" stroke-width="1.79" />
<path d="M180.66 610.43 L182.91 612.48 L185.1 614.68 L187.23 617.03 L189.27 619.5 L191.22 622.08 L193.07 624.78 L194.81 627.56 L196.43 630.41 L197.93 633.33 L199.28 636.29 L200.5 639.28 L201.57 642.29 L202.49 645.3 L203.25 648.29 L203.84 651.25 L204.27 654.17 L204.54 657.02 L204.63 659.8 L204.56 662.49 L204.32 665.08 L203.91 667.56 L203.33 669.9" stroke-width="1.57" />
<path d="M588 654 Q587 664 590.2 668.4 Q594 673.5 598 676.2 Q601.5 677.8 605.2 677.4 Q609 675.5 611.2 672 L616 666 Q618 662 617.6 658.5 Q616.5 652 613.6 649.8 Q611 647.5 608.2 646.8 L600.4 646.2 Q595 647.5 592 651 Z" stroke-width="2.01" />
<path d="M588.6 655.3 L599.8 654.6 L606.4 666.6 L605.2 677" stroke-width="1.57" />
<path d="M599.8 654.6 L604.5 648.5 M606.4 666.6 L612.2 664.5" stroke-width="1.46" />
<path d="M597 654.8 L598.5 652.2 L600 655 M605 664.5 L607 667.5 L604.8 668.5" stroke-width="1.24" />
<path d="M610.5 647.2 Q616 650.5 618.2 657 Q619.3 663 617.5 667" stroke-width="1.9" />
<path d="M606.47 651.73 L606.7 651.57 L606.95 651.44 L607.21 651.33 L607.48 651.26 L607.77 651.21 L608.07 651.2 L608.38 651.22 L608.7 651.26 L609.03 651.34 L609.36 651.44 L609.69 651.58 L610.03 651.74 L610.36 651.93 L610.69 652.15 L611.03 652.39 L611.35 652.66 L611.67 652.94 L611.98 653.25 L612.29 653.58 L612.58 653.93 L612.85 654.3 L613.12 654.68 L613.37 655.07 L613.6 655.47 L613.82 655.88 L614.01 656.3 L614.19 656.73 L614.35 657.15 L614.48 657.58 L614.59 658 L614.68 658.43 L614.75 658.84 L614.79 659.25 L614.82 659.65 L614.81 660.03 L614.78 660.4 L614.73 660.76 L614.66 661.1 L614.56 661.42 L614.44 661.72 L614.3 661.99 L614.14 662.25 L613.96 662.47 L613.76 662.68 L613.54 662.85 L613.3 663 L613.05 663.12" stroke-width="2.01" />
<path d="M608.9 650.33 L609.13 650.17 L609.37 650.04 L609.63 649.93 L609.91 649.86 L610.2 649.81 L610.5 649.8 L610.81 649.82 L611.13 649.86 L611.45 649.94 L611.78 650.04 L612.11 650.18 L612.45 650.34 L612.79 650.53 L613.12 650.75 L613.45 650.99 L613.78 651.26 L614.1 651.54 L614.41 651.85 L614.71 652.18 L615 652.53 L615.28 652.9 L615.54 653.28 L615.79 653.67 L616.03 654.07 L616.24 654.48 L616.44 654.9 L616.61 655.33 L616.77 655.75 L616.91 656.18 L617.02 656.6 L617.11 657.03 L617.18 657.44 L617.22 657.85 L617.24 658.25 L617.24 658.63 L617.21 659 L617.16 659.36 L617.09 659.7 L616.99 660.02 L616.87 660.32 L616.73 660.59 L616.57 660.85 L616.38 661.07 L616.18 661.28 L615.96 661.45 L615.72 661.6 L615.47 661.72" stroke-width="2.01" />
<path d="M611.32 648.93 L611.55 648.77 L611.8 648.64 L612.06 648.53 L612.33 648.46 L612.62 648.41 L612.92 648.4 L613.23 648.42 L613.55 648.46 L613.88 648.54 L614.21 648.64 L614.54 648.78 L614.87 648.94 L615.21 649.13 L615.54 649.35 L615.88 649.59 L616.2 649.86 L616.52 650.14 L616.83 650.45 L617.13 650.78 L617.43 651.13 L617.7 651.5 L617.97 651.88 L618.22 652.27 L618.45 652.67 L618.67 653.08 L618.86 653.5 L619.04 653.93 L619.2 654.35 L619.33 654.78 L619.44 655.2 L619.53 655.63 L619.6 656.04 L619.64 656.45 L619.66 656.85 L619.66 657.23 L619.63 657.6 L619.58 657.96 L619.51 658.3 L619.41 658.62 L619.29 658.92 L619.15 659.19 L618.99 659.45 L618.81 659.67 L618.61 659.88 L618.39 660.05 L618.15 660.2 L617.9 660.32" stroke-width="2.01" />
<path d="M613.75 647.53 L613.98 647.37 L614.22 647.24 L614.48 647.13 L614.76 647.06 L615.05 647.01 L615.35 647 L615.66 647.02 L615.98 647.06 L616.3 647.14 L616.63 647.24 L616.96 647.38 L617.3 647.54 L617.64 647.73 L617.97 647.95 L618.3 648.19 L618.63 648.46 L618.95 648.74 L619.26 649.05 L619.56 649.38 L619.85 649.73 L620.13 650.1 L620.39 650.48 L620.64 650.87 L620.88 651.27 L621.09 651.68 L621.29 652.1 L621.46 652.53 L621.62 652.95 L621.76 653.38 L621.87 653.8 L621.96 654.23 L622.03 654.64 L622.07 655.05 L622.09 655.45 L622.09 655.83 L622.06 656.2 L622.01 656.56 L621.94 656.9 L621.84 657.22 L621.72 657.52 L621.58 657.79 L621.42 658.05 L621.23 658.27 L621.03 658.48 L620.81 658.65 L620.57 658.8 L620.32 658.92" stroke-width="2.01" />
<path d="M616.17 646.13 L616.4 645.97 L616.65 645.84 L616.91 645.73 L617.18 645.66 L617.47 645.61 L617.77 645.6 L618.08 645.62 L618.4 645.66 L618.73 645.74 L619.06 645.84 L619.39 645.98 L619.72 646.14 L620.06 646.33 L620.39 646.55 L620.73 646.79 L621.05 647.06 L621.37 647.34 L621.68 647.65 L621.98 647.98 L622.28 648.33 L622.55 648.7 L622.82 649.08 L623.07 649.47 L623.3 649.87 L623.52 650.28 L623.71 650.7 L623.89 651.13 L624.05 651.55 L624.18 651.98 L624.29 652.4 L624.38 652.83 L624.45 653.24 L624.49 653.65 L624.51 654.05 L624.51 654.43 L624.48 654.8 L624.43 655.16 L624.36 655.5 L624.26 655.82 L624.14 656.12 L624 656.39 L623.84 656.65 L623.66 656.87 L623.46 657.08 L623.24 657.25 L623 657.4 L622.75 657.52" stroke-width="2.01" />
<path d="M618.6 644.73 L618.82 644.57 L619.07 644.44 L619.33 644.33 L619.61 644.26 L619.9 644.21 L620.2 644.2 L620.51 644.22 L620.83 644.26 L621.15 644.34 L621.48 644.44 L621.81 644.58 L622.15 644.74 L622.49 644.93 L622.82 645.15 L623.15 645.39 L623.48 645.66 L623.8 645.94 L624.11 646.25 L624.41 646.58 L624.7 646.93 L624.98 647.3 L625.24 647.68 L625.49 648.07 L625.73 648.47 L625.94 648.88 L626.14 649.3 L626.31 649.73 L626.47 650.15 L626.6 650.58 L626.72 651 L626.81 651.43 L626.88 651.84 L626.92 652.25 L626.94 652.65 L626.94 653.03 L626.91 653.4 L626.86 653.76 L626.78 654.1 L626.69 654.42 L626.57 654.72 L626.43 654.99 L626.27 655.25 L626.08 655.47 L625.88 655.68 L625.66 655.85 L625.42 656 L625.17 656.12" stroke-width="2.01" />
<path d="M621.02 643.33 L621.25 643.17 L621.5 643.04 L621.76 642.93 L622.03 642.86 L622.32 642.81 L622.62 642.8 L622.93 642.82 L623.25 642.86 L623.58 642.94 L623.91 643.04 L624.24 643.18 L624.57 643.34 L624.91 643.53 L625.24 643.75 L625.58 643.99 L625.9 644.26 L626.22 644.54 L626.53 644.85 L626.83 645.18 L627.13 645.53 L627.4 645.9 L627.67 646.28 L627.92 646.67 L628.15 647.07 L628.37 647.48 L628.56 647.9 L628.74 648.33 L628.89 648.75 L629.03 649.18 L629.14 649.6 L629.23 650.03 L629.3 650.44 L629.34 650.85 L629.36 651.25 L629.36 651.63 L629.33 652 L629.28 652.36 L629.21 652.7 L629.11 653.02 L628.99 653.32 L628.85 653.59 L628.69 653.85 L628.51 654.07 L628.31 654.28 L628.09 654.45 L627.85 654.6 L627.6 654.72" stroke-width="2.01" />
<line x1="606.76" y1="651.53" x2="621.31" y2="643.13" stroke-width="1.79" />
<line x1="613.36" y1="662.97" x2="627.91" y2="654.57" stroke-width="1.79" />
<path d="M648.2 615.4 Q648.5 610 654.8 609.3 Q665 613 676.8 619.8 Q686 626 694.3 635.2 Q705 646 712 658.2 Q719 668 720.7 677 L720.7 685.7 Q720 690 716.3 691.2 L690 704.4 Q686 704.5 683.4 702.2 Q677 690 671.3 677 Q667 671 662.5 668.1 Q652 663 646 661.5 Q641 659 641.6 656 L642.1 646.2 Q643 640 646 636.3 L648.2 631.9 Z" stroke-width="2.01" />
<path d="M648.2 631.9 L648.2 615.4" stroke-width="1.79" />
<path d="M656 613.2 Q674 619.5 690 633.5 Q704.5 648 712 663 Q716.8 673 716.8 681 L716.9 691" stroke-width="1.35" />
<path d="M642.1 646.2 Q652 646 662 653 Q676 663 683 678 Q689 690 692.2 701.5" stroke-width="1.46" />
<path d="M651.5 633 Q664 637 676 647 Q692 662 699 679 Q702 688 703.1 694.5" stroke-width="1.35" />
<g transform="translate(660.3,627.5) rotate(-25)"><ellipse rx="4.5" ry="6.5" stroke-width="1.35"/><path d="M-0.67 -5.98 Q3.38 0 0.67 5.98" stroke-width="1.24"/></g>
<g transform="translate(705.3,678) rotate(-25)"><ellipse rx="4.5" ry="6.5" stroke-width="1.35"/><path d="M-0.67 -5.98 Q3.38 0 0.67 5.98" stroke-width="1.24"/></g>
<ellipse cx="751" cy="641.7" rx="54.3" ry="32.58" transform="rotate(60 751 641.7)" stroke-width="1.9" />
<path d="M740.2 585.27 L742.17 584.13 L744.27 583.23 L746.48 582.56 L748.8 582.13 L751.22 581.94 L753.72 582 L756.29 582.29 L758.92 582.83 L761.59 583.61 L764.3 584.61 L767.02 585.85 L769.76 587.32 L772.48 588.99 L775.19 590.88 L777.86 592.97 L780.49 595.24 L783.05 597.69 L785.55 600.31 L787.96 603.08 L790.27 605.99 L792.48 609.02 L794.57 612.17 L796.54 615.41 L798.36 618.73 L800.04 622.11 L801.56 625.54 L802.93 629 L804.12 632.48 L805.14 635.95 L805.98 639.39 L806.64 642.8 L807.11 646.16 L807.39 649.45 L807.48 652.65 L807.38 655.75 L807.09 658.73 L806.61 661.58 L805.94 664.28 L805.09 666.82 L804.06 669.2 L802.86 671.39 L801.49 673.39 L799.96 675.18 L798.27 676.76 L796.44 678.13 L794.47 679.27" stroke-width="1.9" />
<line x1="778.15" y1="688.73" x2="795.47" y2="678.73" stroke-width="1.68" />
<line x1="723.85" y1="594.67" x2="741.17" y2="584.67" stroke-width="1.68" />
<ellipse cx="751.5" cy="641.4" rx="51.2" ry="30.72" transform="rotate(60 751.5 641.4)" stroke-width="1.24" />
<ellipse cx="751" cy="641.7" rx="48.2" ry="28.92" transform="rotate(60 751 641.7)" stroke-width="1.68" />
<ellipse cx="750.6" cy="641.9" rx="44.2" ry="26.52" transform="rotate(60 750.6 641.9)" stroke-width="1.57" />
<clipPath id="bclip1"><path clip-rule="evenodd" d="M772.4 679.66 L770.34 680.66 L768.13 681.36 L765.79 681.76 L763.34 681.86 L760.78 681.65 L758.15 681.14 L755.46 680.33 L752.74 679.23 L750 677.85 L747.26 676.19 L744.55 674.27 L741.88 672.11 L739.28 669.71 L736.77 667.11 L734.36 664.31 L732.07 661.34 L729.93 658.22 L727.94 654.98 L726.13 651.64 L724.5 648.22 L723.07 644.76 L721.86 641.28 L720.85 637.8 L720.08 634.35 L719.54 630.96 L719.23 627.65 L719.17 624.45 L719.34 621.38 L719.75 618.47 L720.39 615.74 L721.27 613.21 L722.37 610.89 L723.68 608.81 L725.2 606.99 L726.91 605.42 L728.8 604.14 L730.86 603.14 L733.07 602.44 L735.41 602.04 L737.86 601.94 L740.42 602.15 L743.05 602.66 L745.74 603.47 L748.46 604.57 L751.2 605.95 L753.94 607.61 L756.65 609.53 L759.32 611.69 L761.92 614.09 L764.43 616.69 L766.84 619.49 L769.13 622.46 L771.27 625.58 L773.26 628.82 L775.07 632.16 L776.7 635.58 L778.13 639.04 L779.34 642.52 L780.35 646 L781.12 649.45 L781.66 652.84 L781.97 656.15 L782.03 659.35 L781.86 662.42 L781.45 665.33 L780.81 668.06 L779.93 670.59 L778.83 672.91 L777.52 674.99 L776 676.81 L774.29 678.38 Z M759.9 668.9 L758.6 669.53 L757.2 669.98 L755.72 670.23 L754.16 670.29 L752.55 670.16 L750.88 669.84 L749.18 669.33 L747.45 668.63 L745.72 667.76 L743.98 666.71 L742.27 665.49 L740.58 664.12 L738.93 662.61 L737.34 660.96 L735.82 659.18 L734.37 657.3 L733.02 655.33 L731.76 653.28 L730.61 651.17 L729.58 649 L728.68 646.81 L727.9 644.61 L727.27 642.4 L726.78 640.22 L726.44 638.07 L726.24 635.98 L726.2 633.95 L726.31 632.01 L726.57 630.17 L726.98 628.44 L727.53 626.84 L728.23 625.37 L729.06 624.06 L730.02 622.9 L731.1 621.91 L732.3 621.1 L733.6 620.47 L735 620.02 L736.48 619.77 L738.04 619.71 L739.65 619.84 L741.32 620.16 L743.02 620.67 L744.75 621.37 L746.48 622.24 L748.22 623.29 L749.93 624.51 L751.62 625.88 L753.27 627.39 L754.86 629.04 L756.38 630.82 L757.83 632.7 L759.18 634.67 L760.44 636.72 L761.59 638.83 L762.62 641 L763.52 643.19 L764.3 645.39 L764.93 647.6 L765.42 649.78 L765.76 651.93 L765.96 654.02 L766 656.05 L765.89 657.99 L765.63 659.83 L765.22 661.56 L764.67 663.16 L763.97 664.63 L763.14 665.94 L762.18 667.1 L761.1 668.09 Z"/></clipPath>
<g clip-path="url(#bclip1)">
<path d="M767.16 687.08 L765.52 687.85 L763.76 688.32 L761.93 688.49 L760.07 688.35 L758.23 687.91 L756.44 687.17 L754.77 686.16 L753.24 684.9 L751.9 683.42 L750.78 681.76 L749.9 679.95 L749.29 678.05 L748.96 676.09 L748.92 674.14 L749.17 672.23 L749.71 670.41 L750.52 668.73 L751.58 667.23 L752.87 665.94 L754.35 664.91 L755.99 664.14 L757.75 663.67 L759.58 663.5 L761.44 663.64 L763.29 664.08 L765.07 664.81 L766.74 665.83 L768.27 667.09 L769.61 668.57 L770.74 670.23 L771.61 672.04 L772.23 673.94 L772.55 675.89 L772.59 677.85 L772.34 679.76 L771.8 681.58 L770.99 683.26 L769.93 684.76 L768.64 686.05 L767.16 687.08" stroke-width="1.46" />
<path d="M744.69 674.11 L743.81 674.53 L742.86 674.78 L741.86 674.87 L740.86 674.8 L739.86 674.56 L738.9 674.16 L737.99 673.61 L737.17 672.93 L736.44 672.13 L735.83 671.23 L735.36 670.25 L735.03 669.23 L734.85 668.17 L734.83 667.11 L734.96 666.08 L735.25 665.09 L735.69 664.18 L736.27 663.37 L736.96 662.68 L737.77 662.12 L738.65 661.7 L739.6 661.45 L740.6 661.35 L741.6 661.43 L742.6 661.67 L743.56 662.07 L744.47 662.61 L745.29 663.3 L746.02 664.1 L746.63 665 L747.1 665.97 L747.43 667 L747.61 668.06 L747.63 669.12 L747.5 670.15 L747.21 671.14 L746.77 672.04 L746.19 672.86 L745.5 673.55 L744.69 674.11" stroke-width="1.46" />
<path d="M728.63 650.55 L727.92 650.88 L727.17 651.08 L726.38 651.15 L725.58 651.09 L724.79 650.9 L724.02 650.59 L723.3 650.15 L722.65 649.61 L722.07 648.98 L721.59 648.26 L721.21 647.49 L720.95 646.67 L720.81 645.83 L720.79 644.99 L720.9 644.17 L721.13 643.39 L721.48 642.67 L721.93 642.02 L722.49 641.47 L723.13 641.02 L723.83 640.69 L724.58 640.49 L725.37 640.42 L726.17 640.48 L726.96 640.67 L727.73 640.98 L728.45 641.42 L729.1 641.96 L729.68 642.6 L730.16 643.31 L730.54 644.09 L730.8 644.9 L730.94 645.74 L730.96 646.58 L730.85 647.4 L730.62 648.19 L730.27 648.91 L729.82 649.55 L729.26 650.1 L728.63 650.55" stroke-width="1.46" />
<path d="M729.67 632.45 L728.13 633.16 L726.49 633.6 L724.78 633.76 L723.04 633.63 L721.32 633.22 L719.66 632.53 L718.09 631.59 L716.67 630.41 L715.41 629.03 L714.36 627.47 L713.54 625.79 L712.97 624.01 L712.67 622.18 L712.63 620.36 L712.87 618.57 L713.37 616.87 L714.13 615.3 L715.12 613.9 L716.32 612.7 L717.71 611.73 L719.24 611.02 L720.88 610.58 L722.59 610.42 L724.33 610.55 L726.05 610.96 L727.71 611.65 L729.28 612.59 L730.7 613.77 L731.96 615.15 L733.01 616.71 L733.83 618.39 L734.4 620.17 L734.71 622 L734.74 623.82 L734.51 625.61 L734 627.31 L733.25 628.88 L732.25 630.28 L731.05 631.48 L729.67 632.45" stroke-width="1.46" />
<path d="M743.31 623.66 L741.42 624.54 L739.4 625.08 L737.29 625.28 L735.15 625.12 L733.03 624.61 L730.99 623.77 L729.06 622.6 L727.3 621.15 L725.76 619.45 L724.46 617.53 L723.45 615.46 L722.75 613.27 L722.37 611.02 L722.33 608.77 L722.62 606.57 L723.24 604.48 L724.17 602.55 L725.39 600.82 L726.87 599.34 L728.58 598.15 L730.47 597.27 L732.49 596.73 L734.59 596.53 L736.73 596.69 L738.85 597.2 L740.9 598.05 L742.83 599.21 L744.59 600.66 L746.13 602.36 L747.42 604.28 L748.43 606.35 L749.14 608.54 L749.52 610.79 L749.56 613.04 L749.27 615.24 L748.65 617.33 L747.72 619.26 L746.5 620.99 L745.01 622.47 L743.31 623.66" stroke-width="1.46" />
<path d="M762.09 630.26 L760.4 631.05 L758.58 631.54 L756.68 631.72 L754.76 631.57 L752.85 631.12 L751.01 630.35 L749.28 629.31 L747.7 628 L746.31 626.47 L745.14 624.75 L744.23 622.88 L743.6 620.91 L743.26 618.89 L743.22 616.86 L743.48 614.89 L744.04 613.01 L744.88 611.27 L745.98 609.72 L747.31 608.39 L748.85 607.31 L750.54 606.52 L752.36 606.03 L754.26 605.86 L756.18 606 L758.09 606.46 L759.93 607.22 L761.66 608.26 L763.24 609.57 L764.63 611.1 L765.8 612.82 L766.71 614.69 L767.34 616.66 L767.68 618.68 L767.72 620.71 L767.46 622.68 L766.9 624.56 L766.06 626.3 L764.96 627.86 L763.63 629.19 L762.09 630.26" stroke-width="1.46" />
<path d="M777.04 651.87 L775.45 652.62 L773.74 653.08 L771.96 653.24 L770.16 653.11 L768.37 652.68 L766.64 651.96 L765.02 650.98 L763.53 649.76 L762.23 648.32 L761.14 646.7 L760.29 644.95 L759.69 643.11 L759.38 641.21 L759.34 639.31 L759.58 637.46 L760.11 635.69 L760.89 634.06 L761.92 632.61 L763.17 631.36 L764.61 630.35 L766.2 629.61 L767.91 629.15 L769.69 628.99 L771.49 629.12 L773.28 629.55 L775.01 630.26 L776.63 631.25 L778.12 632.47 L779.42 633.91 L780.51 635.52 L781.36 637.27 L781.96 639.12 L782.27 641.02 L782.31 642.91 L782.07 644.77 L781.54 646.53 L780.76 648.16 L779.73 649.62 L778.48 650.87 L777.04 651.87" stroke-width="1.46" />
<path d="M780.01 676.92 L778.22 677.76 L776.3 678.28 L774.3 678.46 L772.26 678.31 L770.25 677.83 L768.3 677.02 L766.48 675.92 L764.81 674.54 L763.34 672.92 L762.11 671.1 L761.15 669.13 L760.48 667.05 L760.12 664.92 L760.08 662.78 L760.36 660.69 L760.95 658.71 L761.83 656.87 L762.99 655.23 L764.4 653.83 L766.02 652.7 L767.81 651.86 L769.73 651.34 L771.73 651.16 L773.76 651.31 L775.78 651.79 L777.72 652.6 L779.55 653.7 L781.22 655.08 L782.69 656.7 L783.92 658.52 L784.88 660.49 L785.55 662.57 L785.9 664.7 L785.95 666.84 L785.67 668.93 L785.08 670.91 L784.2 672.75 L783.04 674.39 L781.63 675.79 L780.01 676.92" stroke-width="1.46" />
</g>
<ellipse cx="746.1" cy="645" rx="27" ry="16.2" transform="rotate(60 746.1 645)" stroke-width="2.01" />
<ellipse cx="747.4" cy="644.25" rx="24.2" ry="14.52" transform="rotate(60 747.4 644.25)" stroke-width="1.35" />
<ellipse cx="746.1" cy="645" rx="21" ry="12.6" transform="rotate(60 746.1 645)" stroke-width="1.9" />
<ellipse cx="1099.8" cy="437.7" rx="48.5" ry="29.1" transform="rotate(60 1099.8 437.7)" stroke-width="1.9" />
<path d="M1102.4 380.23 L1104.16 379.22 L1106.03 378.41 L1108.01 377.81 L1110.08 377.43 L1112.24 377.26 L1114.47 377.31 L1116.76 377.57 L1119.11 378.05 L1121.5 378.74 L1123.92 379.64 L1126.35 380.75 L1128.8 382.06 L1131.23 383.56 L1133.65 385.24 L1136.03 387.1 L1138.38 389.13 L1140.67 391.32 L1142.9 393.66 L1145.05 396.14 L1147.12 398.74 L1149.09 401.45 L1150.96 404.26 L1152.71 407.15 L1154.34 410.12 L1155.84 413.14 L1157.21 416.2 L1158.42 419.29 L1159.49 422.39 L1160.4 425.49 L1161.15 428.57 L1161.74 431.62 L1162.15 434.62 L1162.41 437.55 L1162.49 440.41 L1162.4 443.18 L1162.14 445.84 L1161.71 448.39 L1161.11 450.8 L1160.36 453.07 L1159.44 455.19 L1158.36 457.15 L1157.14 458.93 L1155.77 460.54 L1154.26 461.95 L1152.63 463.17 L1150.87 464.18" stroke-width="1.9" />
<line x1="1124.05" y1="479.7" x2="1151.76" y2="463.7" stroke-width="1.68" />
<line x1="1075.55" y1="395.7" x2="1103.26" y2="379.7" stroke-width="1.68" />
<ellipse cx="1100.8" cy="437.5" rx="42.6" ry="25.56" transform="rotate(60 1100.8 437.5)" stroke-width="1.68" />
<ellipse cx="1100.5" cy="437.8" rx="38.3" ry="22.98" transform="rotate(60 1100.5 437.8)" stroke-width="1.46" />
<clipPath id="bclip2"><path clip-rule="evenodd" d="M1119.35 470.45 L1117.57 471.31 L1115.66 471.92 L1113.64 472.26 L1111.51 472.35 L1109.31 472.17 L1107.03 471.73 L1104.7 471.03 L1102.35 470.08 L1099.98 468.88 L1097.61 467.45 L1095.27 465.79 L1092.96 463.92 L1090.71 461.85 L1088.54 459.59 L1086.46 457.17 L1084.48 454.61 L1082.63 451.91 L1080.91 449.11 L1079.34 446.22 L1077.93 443.27 L1076.7 440.27 L1075.64 437.26 L1074.78 434.25 L1074.11 431.27 L1073.64 428.34 L1073.38 425.48 L1073.32 422.71 L1073.47 420.06 L1073.82 417.54 L1074.38 415.18 L1075.14 412.99 L1076.09 410.99 L1077.22 409.19 L1078.53 407.61 L1080.01 406.26 L1081.65 405.15 L1083.43 404.29 L1085.34 403.68 L1087.36 403.34 L1089.49 403.25 L1091.69 403.43 L1093.97 403.87 L1096.3 404.57 L1098.65 405.52 L1101.02 406.72 L1103.39 408.15 L1105.73 409.81 L1108.04 411.68 L1110.29 413.75 L1112.46 416.01 L1114.54 418.43 L1116.52 420.99 L1118.37 423.69 L1120.09 426.49 L1121.66 429.38 L1123.07 432.33 L1124.3 435.33 L1125.36 438.34 L1126.22 441.35 L1126.89 444.33 L1127.36 447.26 L1127.62 450.12 L1127.68 452.89 L1127.53 455.54 L1127.18 458.06 L1126.62 460.42 L1125.86 462.61 L1124.91 464.61 L1123.78 466.41 L1122.47 467.99 L1120.99 469.34 Z M1112.7 461.56 L1111.42 462.18 L1110.04 462.61 L1108.58 462.87 L1107.05 462.93 L1105.45 462.8 L1103.81 462.48 L1102.13 461.98 L1100.43 461.29 L1098.72 460.43 L1097.01 459.39 L1095.32 458.2 L1093.66 456.84 L1092.04 455.35 L1090.47 453.72 L1088.97 451.98 L1087.54 450.13 L1086.21 448.18 L1084.97 446.16 L1083.83 444.08 L1082.82 441.95 L1081.93 439.79 L1081.17 437.61 L1080.54 435.44 L1080.06 433.29 L1079.72 431.17 L1079.53 429.11 L1079.49 427.11 L1079.6 425.2 L1079.85 423.38 L1080.26 421.68 L1080.8 420.1 L1081.49 418.66 L1082.31 417.36 L1083.25 416.22 L1084.32 415.24 L1085.5 414.44 L1086.78 413.82 L1088.16 413.39 L1089.62 413.13 L1091.15 413.07 L1092.75 413.2 L1094.39 413.52 L1096.07 414.02 L1097.77 414.71 L1099.48 415.57 L1101.19 416.61 L1102.88 417.8 L1104.54 419.16 L1106.16 420.65 L1107.73 422.28 L1109.23 424.02 L1110.66 425.87 L1111.99 427.82 L1113.23 429.84 L1114.37 431.92 L1115.38 434.05 L1116.27 436.21 L1117.03 438.39 L1117.66 440.56 L1118.14 442.71 L1118.48 444.83 L1118.67 446.89 L1118.71 448.89 L1118.6 450.8 L1118.35 452.62 L1117.94 454.32 L1117.4 455.9 L1116.71 457.34 L1115.89 458.64 L1114.95 459.78 L1113.88 460.76 Z"/></clipPath>
<g clip-path="url(#bclip2)">
<path d="M1119.25 474.99 L1118.03 475.56 L1116.73 475.91 L1115.37 476.03 L1113.98 475.93 L1112.61 475.6 L1111.29 475.05 L1110.04 474.3 L1108.91 473.36 L1107.91 472.26 L1107.08 471.03 L1106.42 469.68 L1105.97 468.27 L1105.72 466.82 L1105.69 465.36 L1105.88 463.94 L1106.28 462.59 L1106.89 461.34 L1107.68 460.23 L1108.63 459.27 L1109.73 458.5 L1110.95 457.93 L1112.26 457.58 L1113.62 457.46 L1115 457.56 L1116.37 457.89 L1117.7 458.43 L1118.94 459.19 L1120.08 460.12 L1121.08 461.22 L1121.91 462.46 L1122.57 463.8 L1123.02 465.22 L1123.26 466.67 L1123.29 468.12 L1123.1 469.54 L1122.7 470.9 L1122.1 472.14 L1121.31 473.26 L1120.35 474.22 L1119.25 474.99" stroke-width="1.46" />
<path d="M1100.83 469.51 L1099.93 469.93 L1098.96 470.19 L1097.96 470.28 L1096.94 470.21 L1095.92 469.97 L1094.94 469.56 L1094.03 469.01 L1093.19 468.31 L1092.45 467.5 L1091.83 466.59 L1091.35 465.59 L1091.01 464.55 L1090.83 463.48 L1090.81 462.4 L1090.95 461.35 L1091.25 460.35 L1091.69 459.43 L1092.27 458.61 L1092.98 457.9 L1093.8 457.33 L1094.7 456.91 L1095.66 456.65 L1096.67 456.56 L1097.69 456.63 L1098.7 456.88 L1099.68 457.28 L1100.6 457.84 L1101.44 458.53 L1102.18 459.34 L1102.79 460.26 L1103.28 461.25 L1103.61 462.29 L1103.79 463.37 L1103.81 464.44 L1103.67 465.49 L1103.38 466.49 L1102.93 467.41 L1102.35 468.24 L1101.64 468.94 L1100.83 469.51" stroke-width="1.46" />
<path d="M1084.34 449.91 L1083.63 450.24 L1082.88 450.44 L1082.09 450.52 L1081.29 450.46 L1080.5 450.27 L1079.74 449.95 L1079.02 449.52 L1078.36 448.97 L1077.78 448.34 L1077.3 447.62 L1076.92 446.85 L1076.66 446.03 L1076.52 445.19 L1076.5 444.35 L1076.61 443.53 L1076.84 442.75 L1077.19 442.03 L1077.65 441.38 L1078.2 440.83 L1078.84 440.39 L1079.54 440.06 L1080.3 439.85 L1081.08 439.78 L1081.88 439.84 L1082.68 440.03 L1083.44 440.35 L1084.16 440.78 L1084.82 441.32 L1085.39 441.96 L1085.88 442.67 L1086.25 443.45 L1086.52 444.27 L1086.66 445.11 L1086.67 445.95 L1086.56 446.77 L1086.33 447.55 L1085.98 448.27 L1085.53 448.91 L1084.98 449.47 L1084.34 449.91" stroke-width="1.46" />
<path d="M1080.05 428.72 L1079.15 429.14 L1078.18 429.4 L1077.18 429.5 L1076.16 429.42 L1075.14 429.18 L1074.16 428.77 L1073.24 428.22 L1072.4 427.52 L1071.67 426.71 L1071.05 425.8 L1070.56 424.8 L1070.23 423.76 L1070.05 422.68 L1070.03 421.61 L1070.17 420.56 L1070.46 419.56 L1070.91 418.64 L1071.49 417.81 L1072.2 417.11 L1073.01 416.54 L1073.92 416.11 L1074.88 415.85 L1075.89 415.76 L1076.91 415.84 L1077.92 416.08 L1078.9 416.49 L1079.82 417.04 L1080.66 417.73 L1081.4 418.55 L1082.02 419.46 L1082.5 420.46 L1082.84 421.5 L1083.02 422.57 L1083.04 423.65 L1082.9 424.7 L1082.6 425.7 L1082.16 426.62 L1081.57 427.45 L1080.87 428.15 L1080.05 428.72" stroke-width="1.46" />
<path d="M1089.51 416.68 L1088.38 417.21 L1087.17 417.54 L1085.91 417.65 L1084.63 417.56 L1083.37 417.25 L1082.14 416.75 L1080.99 416.05 L1079.94 415.18 L1079.01 414.16 L1078.24 413.02 L1077.64 411.78 L1077.22 410.47 L1076.99 409.12 L1076.96 407.78 L1077.14 406.46 L1077.51 405.21 L1078.06 404.06 L1078.8 403.03 L1079.68 402.14 L1080.7 401.43 L1081.83 400.9 L1083.04 400.58 L1084.3 400.46 L1085.58 400.55 L1086.85 400.86 L1088.07 401.36 L1089.22 402.06 L1090.28 402.93 L1091.2 403.95 L1091.97 405.09 L1092.58 406.33 L1093 407.64 L1093.22 408.99 L1093.25 410.33 L1093.08 411.65 L1092.71 412.9 L1092.15 414.05 L1091.42 415.09 L1090.53 415.97 L1089.51 416.68" stroke-width="1.46" />
<path d="M1106.06 418.92 L1105.1 419.37 L1104.06 419.65 L1102.98 419.75 L1101.88 419.66 L1100.8 419.4 L1099.75 418.97 L1098.76 418.37 L1097.86 417.63 L1097.07 416.76 L1096.4 415.78 L1095.89 414.71 L1095.53 413.59 L1095.33 412.44 L1095.31 411.28 L1095.46 410.16 L1095.78 409.09 L1096.25 408.1 L1096.88 407.21 L1097.64 406.45 L1098.51 405.84 L1099.48 405.39 L1100.52 405.11 L1101.6 405.01 L1102.69 405.09 L1103.78 405.35 L1104.83 405.79 L1105.82 406.38 L1106.72 407.13 L1107.51 408 L1108.17 408.98 L1108.69 410.05 L1109.05 411.17 L1109.24 412.32 L1109.27 413.47 L1109.12 414.6 L1108.8 415.67 L1108.32 416.66 L1107.7 417.55 L1106.94 418.3 L1106.06 418.92" stroke-width="1.46" />
<path d="M1121.31 436.36 L1120.46 436.75 L1119.56 437 L1118.62 437.08 L1117.66 437.01 L1116.71 436.78 L1115.79 436.4 L1114.93 435.88 L1114.14 435.24 L1113.45 434.47 L1112.88 433.62 L1112.42 432.69 L1112.11 431.71 L1111.94 430.7 L1111.92 429.7 L1112.05 428.71 L1112.33 427.78 L1112.74 426.91 L1113.29 426.14 L1113.95 425.48 L1114.72 424.94 L1115.56 424.55 L1116.47 424.31 L1117.41 424.22 L1118.36 424.29 L1119.31 424.52 L1120.23 424.9 L1121.09 425.42 L1121.88 426.07 L1122.57 426.83 L1123.15 427.69 L1123.6 428.62 L1123.91 429.59 L1124.08 430.6 L1124.1 431.61 L1123.97 432.59 L1123.7 433.53 L1123.28 434.39 L1122.73 435.16 L1122.07 435.82 L1121.31 436.36" stroke-width="1.46" />
<path d="M1127.41 460.69 L1126.3 461.21 L1125.11 461.53 L1123.86 461.65 L1122.6 461.55 L1121.35 461.25 L1120.14 460.75 L1119.01 460.07 L1117.97 459.21 L1117.06 458.21 L1116.3 457.08 L1115.7 455.85 L1115.29 454.56 L1115.06 453.24 L1115.04 451.91 L1115.21 450.62 L1115.58 449.38 L1116.13 448.24 L1116.85 447.22 L1117.72 446.35 L1118.72 445.65 L1119.84 445.13 L1121.03 444.81 L1122.27 444.69 L1123.53 444.79 L1124.78 445.09 L1125.99 445.59 L1127.13 446.27 L1128.16 447.13 L1129.07 448.13 L1129.84 449.26 L1130.43 450.49 L1130.85 451.78 L1131.07 453.1 L1131.1 454.43 L1130.92 455.73 L1130.56 456.96 L1130.01 458.1 L1129.29 459.12 L1128.42 459.99 L1127.41 460.69" stroke-width="1.46" />
</g>
<ellipse cx="1099.1" cy="438" rx="26.6" ry="15.96" transform="rotate(60 1099.1 438)" stroke-width="2.01" />
<ellipse cx="1100.4" cy="437.25" rx="23.8" ry="14.28" transform="rotate(60 1100.4 437.25)" stroke-width="1.35" />
<ellipse cx="1099.1" cy="438" rx="21.4" ry="12.84" transform="rotate(60 1099.1 438)" stroke-width="1.9" />
<path d="M1184.53 374.1 L1185.79 375.18 L1187.01 376.36 L1188.21 377.61 L1189.36 378.93 L1190.46 380.33 L1191.52 381.78 L1192.51 383.28 L1193.45 384.84 L1194.32 386.42 L1195.12 388.04 L1195.84 389.68 L1196.49 391.34 L1197.05 393 L1197.53 394.66 L1197.92 396.3 L1198.23 397.93 L1198.45 399.53 L1198.57 401.1 L1198.6 402.62 L1198.55 404.1 L1198.4 405.52 L1198.15 406.87 L1197.82 408.15 L1197.41 409.36 L1196.9 410.48 L1196.31 411.51 L1195.65 412.45 L1194.9 413.29 L1194.08 414.03 L1193.2 414.67 L1192.24 415.19 L1191.23 415.6 L1190.16 415.9 L1189.04 416.08 L1187.88 416.15 L1186.68 416.1 L1185.44 415.93 L1184.18 415.65 L1182.9 415.25 L1181.6 414.74 L1180.3 414.12 L1178.99 413.4 L1177.69 412.57 L1176.4 411.64 L1175.13 410.62 L1173.88 409.51 L1172.66 408.31 L1171.48 407.04 L1170.34 405.7 L1169.25 404.29 L1168.21 402.82 L1167.23 401.3 L1166.31 399.74 L1165.46 398.14 L1164.68 396.52 L1163.98 394.87 L1163.35 393.22 L1162.81 391.55 L1162.35 389.9 L1161.98 388.26 L1161.7 386.63 L1161.51 385.04 L1161.41 383.48 L1161.4 381.97 L1161.49 380.51 L1161.66 379.11 L1161.93 377.78 L1162.28 376.52 L1162.72 375.33 L1163.25 374.23 L1163.86 373.22 L1164.55 372.31 L1165.31 371.5 L1166.15 370.79 L1167.05 370.18 L1168.02 369.69 L1169.05 369.31 L1170.14 369.04 L1171.27 368.89 L1172.44 368.86 L1173.65 368.94 L1174.9 369.14 L1176.16 369.45" stroke-width="1.9" />
<path d="M1185.06 377.33 L1186.14 378.35 L1187.18 379.45 L1188.19 380.61 L1189.16 381.83 L1190.08 383.1 L1190.96 384.42 L1191.78 385.78 L1192.54 387.17 L1193.24 388.59 L1193.87 390.03 L1194.44 391.48 L1194.93 392.93 L1195.35 394.38 L1195.7 395.83 L1195.97 397.25 L1196.16 398.66 L1196.27 400.03 L1196.3 401.36 L1196.25 402.66 L1196.11 403.9 L1195.9 405.08 L1195.61 406.21 L1195.25 407.26 L1194.81 408.25 L1194.29 409.15 L1193.71 409.98 L1193.05 410.71 L1192.34 411.36 L1191.56 411.92 L1190.73 412.37 L1189.84 412.73 L1188.9 413 L1187.92 413.16 L1186.9 413.21 L1185.85 413.17 L1184.77 413.02 L1183.66 412.78 L1182.54 412.43 L1181.4 411.98 L1180.26 411.44 L1179.11 410.8 L1177.97 410.08 L1176.84 409.27 L1175.73 408.37 L1174.64 407.4 L1173.57 406.35 L1172.53 405.24 L1171.54 404.06 L1170.58 402.82 L1169.67 401.54 L1168.81 400.21 L1168.01 398.84 L1167.26 397.44 L1166.58 396.02 L1165.96 394.57 L1165.42 393.12 L1164.94 391.67 L1164.54 390.22 L1164.22 388.78 L1163.97 387.36 L1163.8 385.96 L1163.72 384.6 L1163.71 383.27 L1163.78 382 L1163.94 380.77 L1164.17 379.6 L1164.48 378.49 L1164.87 377.46 L1165.33 376.49 L1165.86 375.61 L1166.47 374.81 L1167.14 374.1 L1167.87 373.48 L1168.66 372.95 L1169.51 372.52 L1170.42 372.18 L1171.36 371.95 L1172.36 371.82 L1173.39 371.79 L1174.45 371.86 L1175.54 372.04" stroke-width="1.9" />
<line x1="1184.53" y1="374.1" x2="1185.06" y2="377.33" stroke-width="1.68" />
<line x1="1176.16" y1="369.45" x2="1175.54" y2="372.04" stroke-width="1.68" />
<path d="M1174.5 369.5 Q1175 365 1178.5 365 L1181.5 366 Q1184 367.5 1183.5 371 L1182.8 375 Q1181.5 377 1179 376" stroke-width="1.9" />
<ellipse cx="1179.2" cy="370.3" rx="1.6" ry="2.2" stroke-width="1.46"/>
<path d="M1183.5 371.5 L1188 372 Q1191 373 1190.8 376.5 L1190.5 380.5 Q1189.5 383 1187 382" stroke-width="1.9" />
<ellipse cx="1187.2" cy="376.5" rx="1.5" ry="2.1" stroke-width="1.46"/>
<path d="M831 537.5 Q829.5 534 833.5 532 L854 523 Q860 521 861.4 526 L861.4 535 Q861 538 857.5 539.5 L836 548 Q831.5 549 831.2 545.5 Z" stroke-width="1.9" />
<path d="M831 537.5 Q832 541 836.5 540 L857 531 Q861 529 861.4 526" stroke-width="1.68" />
<line x1="846.5" y1="546.8" x2="846.5" y2="563.6" stroke-width="1.46" />
<path d="M836 575 Q833 571 838.5 567.5 L853.5 561 Q860.5 559 860.8 563 Q860.5 566 856 568.5 L841 576.5 Q837.5 578.5 836 575 Z" stroke-width="1.68" />
<path d="M839.5 573 L854 566" stroke-width="1.35" />
<path d="M809.5 585.7 L809.5 585.7 C828.93 573.53 848.37 561.37 867.8 549.2 L867.8 549.2 C869.2 548.3 869.4 548 872 546.5 C874.6 545 873.1 546.6 875.6 544.7 C878.1 542.8 878.2 542.1 879.5 540.8 L878.8 537.5 C879.87 535.83 878.6 535.57 882 532.5 C885.4 529.43 884.47 530.4 889 528.3 C893.53 526.2 891.53 526.43 895.6 526.2 C899.67 525.97 899.33 527.13 901.2 527.6 L901.9 522.7 C903.07 520.83 901.9 520.37 905.4 517.1 C908.9 513.83 906.8 516.17 912.4 512.9 C918 509.63 916.13 510.8 922.2 507.3 C928.27 503.8 925.93 505.17 930.6 502.4 C935.27 499.63 934.33 500.13 936.2 499 L937.6 490.6 C939.43 487.8 938.47 486.63 943.1 482.2 C947.73 477.77 945.9 480.1 951.5 477.3 C957.1 474.5 955.07 474.97 959.9 473.8 C964.73 472.63 962.27 473.57 966 473.8 C969.73 474.03 969.4 474.27 971.1 474.5 L973.9 475.2 C976.23 473.8 975.53 473.57 980.9 471 C986.27 468.43 983.97 469.97 990 467.5 C996.03 465.03 994.27 465.13 999 463.6 C1003.73 462.07 1002.47 463.13 1004.2 462.9 L1004.2 462.9 C1005.47 461.33 1004.57 461.37 1008 458.2 C1011.43 455.03 1009.73 455.5 1014.5 453.4 C1019.27 451.3 1017.47 452.03 1022.3 451.9 C1027.13 451.77 1025.53 452.13 1029 453 C1032.47 453.87 1031.47 454 1032.7 454.5 L1035.3 453.8 C1037.9 452.3 1037.9 451.47 1043.1 449.3 C1048.3 447.13 1046.13 447.53 1050.9 447.3 C1055.67 447.07 1055.23 448.17 1057.4 448.6 L1057.4 448.6 C1059.57 451.87 1060.87 453.63 1063.9 458.4 C1066.93 463.17 1065.63 461.4 1066.5 462.9 L1056.5 469.4 L1053 471.5 L1054.4 484 L1050.9 487.6 L1050.9 487 C1050.67 488.67 1050.63 489 1050.2 492 C1049.77 495 1051 493 1049.6 496 C1048.2 499 1048.17 498.4 1046 501 C1043.83 503.6 1045.77 502.13 1043.1 503.8 C1040.43 505.47 1041.47 504.7 1038 506 C1034.53 507.3 1034.47 507.13 1032.7 507.7 L1032.1 512.9 C1031.57 514.27 1031.6 514.83 1030.5 517 C1029.4 519.17 1032.3 517.23 1028.8 519.4 C1025.3 521.57 1024.77 521.33 1020 523.5 C1015.23 525.67 1019.17 524.13 1014.5 525.9 C1009.83 527.67 1010.73 527.5 1006 528.8 C1001.27 530.1 1002.2 529.47 1000.3 529.8 L994.4 525.9 L994.4 531.1 C993.6 532.4 993.5 532.83 992 535 C990.5 537.17 992.57 535.6 989.9 537.6 C987.23 539.6 987.47 539.27 984 541 C980.53 542.73 983.5 541.47 979.5 542.8 C975.5 544.13 975.73 544 972 545 C968.27 546 970.47 545.3 968.3 545.8 C966.13 546.3 966.43 546.27 965.5 546.5 L966.2 553.5 C966.13 555 966.23 554.73 966 558 C965.77 561.27 966.83 559.63 965.5 563.3 C964.17 566.97 963.87 566.2 962 569 C960.13 571.8 962.57 569.7 959.9 571.7 C957.23 573.7 956.8 573.6 954 575 C951.2 576.4 955.6 573.97 951.5 575.9 C947.4 577.83 946.33 579.63 941.7 580.8 C937.07 581.97 938.97 579.87 937.6 579.4 L924.3 566.1 L923.6 568.9 C922.67 570.77 924.53 570.77 920.8 574.5 C917.07 578.23 918 577.53 912.4 580.1 C906.8 582.67 908.67 581.97 904 582.2 C899.33 582.43 900.27 581.27 898.4 580.8 L826.8 620.3" stroke-width="1.9" />
<path d="M802.8 590.4 L809.5 585.7" stroke-width="1.9" />
<path d="M802.8 590.4 Q815 598 827.4 606 L841.1 598.5 L842.3 601.2 L841.7 609" stroke-width="1.79" />
<path d="M810 586.2 Q820 592 825 600.6 L827.4 606" stroke-width="1.35" />
<path d="M812.4 597.6 L802.8 604.8 L804 608.3 Q808 615 813 620.3 Q817 623 820.2 622.7 Q824 622 826.8 620.3" stroke-width="1.79" />
<path d="M812.4 597.6 L840.5 610.1 L826.8 620.3 M804 606 L826.8 619.5" stroke-width="1.57" />
<g stroke-width="1.41">
<path d="M867.8 549.2 Q884 562 887.9 584.3" />
<path d="M875.6 544.7 Q893 560 894.4 581.7" />
<path d="M879.5 540.8 Q899 556 898.4 580.8" />
<path d="M889 528.3 Q907 545 909.4 572.6 Q908 578 904 582.2" />
<path d="M895.6 526.2 Q915 540 917.1 568.7 Q917 574 912.4 580.1" />
<path d="M905.4 530.4 Q910 525 913 524.5" />
<path d="M913 524.5 Q924 535 922.2 566.1" />
<path d="M915.2 512.2 Q945 522 951.5 573.1" />
<path d="M922.2 507.3 Q958 520 962.7 540.9 L965.5 546.5" />
<path d="M924.3 566.1 Q930 562 935.5 562" />
<path d="M936.2 497.6 Q962 512 966.2 525.5 Q970 535 971.1 545" />
<path d="M943.1 482.2 Q962 487 965 486" />
<path d="M959.9 473.8 L974 474.5" />
<path d="M974 474.5 L985 483 Q987.5 492 989 500 L994 520 L994 528" />
<path d="M965 486 Q973 493 974 496 Q977 505 978 515 L980 530" />
<path d="M965 511 Q970 518 971 526 L971.5 543" />
<path d="M975 474 Q982 470.5 986 471 Q994 472 998 475 Q1004 479 1008 486 Q1014 493 1016 500 L1017 516 L1017 521" />
<path d="M1016 455 Q1028 459 1035 467" />
<path d="M1018 463.5 Q1027 466 1031 472 Q1034 475 1035 478" />
<path d="M1033.4 456 Q1041 462 1044.6 470 Q1048 477 1049.5 483.4 L1049.8 492.4 Q1049 499 1046 501.5 Q1043 503 1040.4 504.3 L1032.7 507.1" />
<path d="M1053 449.8 L1062.8 460.3 M1055 449 L1064.9 460.3" />
<path d="M1056.5 470 L1066.3 475.7 L1055.8 483.4" />
<path d="M1031.3 498 L1036.5 498" />
</g>
<g stroke-width="1.35" stroke-dasharray="6 1.5">
<path d="M975 493 L984 488" />
<path d="M989 480 Q995 481 1000 485 Q1005 490 1007 497 Q1008.5 503 1008 510 L1006 514.5 Q1000 516 995 520" />
<path d="M1025 458.9 Q1033 463 1037.6 469.4 Q1042 477 1043.2 485.5 L1041.8 501.5" />
<path d="M1025 465.9 Q1031 469 1033.4 472.9 Q1037 480 1037.6 489 L1036.2 494.5" />
<path d="M1025 482 Q1030 490 1031.3 498 L1031.5 508" />
</g>
<g clip-path="url(#blkclip)">
<path d="M1120.5 180.3 L1276.1 91.6 L1340 100" stroke-width="1.28" stroke-dasharray="45 2.5 2 2.5"/>
<path d="M1120.5 180.3 L1256.9 202.2 L1340 153" stroke-width="1.36" stroke-dasharray="45 2.5 2 2.5"/>
<path d="M1256.9 202.2 L1340 250" stroke-width="1.28" stroke-dasharray="45 2.5 2 2.5"/>
<path d="M1172 179.4 L1165.6 175.2 Q1164.8 173.8 1166.5 172.8 L1275 109 Q1280 107 1290 108 L1340 114" stroke-width="1.2" stroke-dasharray="45 2.5 2 2.5"/>
<path d="M1172 179.4 L1278 118 Q1284 115.5 1292 116 L1340 121" stroke-width="1.2" stroke-dasharray="45 2.5 2 2.5"/>
<path d="M1172 179.4 Q1180 182.5 1200 183 L1224.5 182.9 L1290 145.3 Q1293 141 1300 141 L1311 139.2 Q1319 137 1323.3 134 Q1321 130 1322 127 L1334 120.8" stroke-width="1.2" stroke-dasharray="45 2.5 2 2.5"/>
<ellipse cx="1151.1" cy="171" rx="7" ry="3.4" transform="rotate(-22 1151.1 171)" stroke-width="1.2" />
<ellipse cx="1245.5" cy="117" rx="7" ry="3.4" transform="rotate(-22 1245.5 117)" stroke-width="1.2" />
<ellipse cx="1263.4" cy="106.9" rx="7" ry="3.4" transform="rotate(-22 1263.4 106.9)" stroke-width="1.2" />
<ellipse cx="1292.7" cy="152.8" rx="7" ry="3.4" transform="rotate(-22 1292.7 152.8)" stroke-width="1.2" />
<ellipse cx="1237.6" cy="185" rx="7" ry="3.4" transform="rotate(-22 1237.6 185)" stroke-width="1.2" />
<path d="M1120.5 180.3 L1120.5 207 Q1122 228 1132 242 Q1139 252 1139.7 261.6 M1139.7 285.7 Q1138 312 1128 328 Q1126 336 1127.6 342.9 Q1130 354 1136.4 362.7" stroke-width="1.2" stroke-dasharray="40 2.5 2 2.5"/>
<g transform="translate(1191.8,207.7) rotate(-25)"><ellipse rx="5" ry="7" stroke-width="1.35"/><path d="M-0.75 -6.44 Q3.75 0 0.75 6.44" stroke-width="1.24"/></g>
<g transform="translate(1201.9,234.1) rotate(-25)"><ellipse rx="5" ry="7" stroke-width="1.35"/><path d="M-0.75 -6.44 Q3.75 0 0.75 6.44" stroke-width="1.24"/></g>
<g transform="translate(1278.2,240.7) rotate(-25)"><ellipse rx="5" ry="7" stroke-width="1.35"/><path d="M-0.75 -6.44 Q3.75 0 0.75 6.44" stroke-width="1.24"/></g>
<g transform="translate(1202.3,289) rotate(-25)"><ellipse rx="5" ry="7" stroke-width="1.35"/><path d="M-0.75 -6.44 Q3.75 0 0.75 6.44" stroke-width="1.24"/></g>
<g transform="translate(1166.7,309.3) rotate(-25)"><ellipse rx="5" ry="7" stroke-width="1.35"/><path d="M-0.75 -6.44 Q3.75 0 0.75 6.44" stroke-width="1.24"/></g>
<g transform="translate(1140.8,345.1) rotate(-25)"><ellipse rx="5" ry="7" stroke-width="1.35"/><path d="M-0.75 -6.44 Q3.75 0 0.75 6.44" stroke-width="1.24"/></g>
<g transform="translate(1269.4,554.2) rotate(-25)"><ellipse rx="5" ry="7" stroke-width="1.35"/><path d="M-0.75 -6.44 Q3.75 0 0.75 6.44" stroke-width="1.24"/></g>
<g transform="translate(1324.3,607) rotate(-25)"><ellipse rx="5" ry="7" stroke-width="1.35"/><path d="M-0.75 -6.44 Q3.75 0 0.75 6.44" stroke-width="1.24"/></g>
<g transform="translate(1300.1,668.1) rotate(-25)"><ellipse rx="5" ry="7" stroke-width="1.35"/><path d="M-0.75 -6.44 Q3.75 0 0.75 6.44" stroke-width="1.24"/></g>
<g transform="translate(1292.5,698.9) rotate(-25)"><ellipse rx="5" ry="7" stroke-width="1.35"/><path d="M-0.75 -6.44 Q3.75 0 0.75 6.44" stroke-width="1.24"/></g>
<ellipse cx="1140.8" cy="226.4" rx="7" ry="9.6" transform="rotate(-22 1140.8 226.4)" stroke-width="1.35" />
<path d="M1213 220 Q1209 221 1210 227 L1226 303 Q1229 309 1236 310 L1272 315.5 Q1278 316 1277.5 310 L1263 246 Q1258 233 1246 226 L1222 221 Z" stroke-width="1.36" stroke-dasharray="45 2.5 2 2.5"/>
<path d="M1220 221.5 L1236.5 300 Q1239 305 1246 306.5 L1275 312" stroke-width="1.12" stroke-dasharray="40 2.5 2 2.5"/>
<ellipse cx="1305.6" cy="292.3" rx="16.5" ry="25" transform="rotate(-28 1305.6 292.3)" stroke-width="1.35" />
<path d="M1302 271 Q1300 290 1312 303 Q1320 312 1324 314" stroke-width="1.12" />
<path d="M1187 348.32 L1186.99 346.13 L1187.08 343.99 L1187.26 341.92 L1187.55 339.92 L1187.93 337.99 L1188.42 336.14 L1188.99 334.37 L1189.67 332.69 L1190.43 331.1 L1191.28 329.61 L1192.23 328.22 L1193.26 326.94 L1194.37 325.76 L1195.56 324.7 L1196.82 323.75 L1198.16 322.93 L1199.57 322.22 L1201.04 321.63 L1202.57 321.17 L1204.16 320.84 L1205.8 320.63 L1207.49 320.54 L1209.22 320.59 L1210.98 320.76 L1212.79 321.05 L1214.61 321.48 L1216.47 322.02 L1218.34 322.69 L1220.22 323.48 L1222.11 324.39 L1224 325.42 L1225.88 326.56 L1227.76 327.81 L1229.63 329.16 L1231.47 330.62 L1233.29 332.18 L1235.08 333.83 L1236.84 335.58 L1238.56 337.4 L1240.23 339.31 L1241.86 341.29 L1243.43 343.34 L1244.94 345.46 L1246.39 347.63 L1247.78 349.85 L1249.09 352.12 L1250.33 354.43 L1251.5 356.77 L1252.58 359.13 L1253.58 361.51 L1254.5 363.91 L1255.32 366.31 L1256.06 368.72 L1256.7 371.11 L1257.25 373.49 L1257.7 375.85 L1258.05 378.18 L1258.31 380.48 L1258.46 382.73 L1258.52 384.94 L1258.47 387.1 L1258.33 389.2 L1258.08 391.23 L1257.74 393.19 L1257.3 395.08 L1256.76 396.89 L1256.13 398.61 L1255.41 400.23 L1254.59 401.77 L1253.69 403.2 L1252.69 404.53 L1251.62 405.75 L1250.46 406.86 L1249.23 407.86 L1247.92 408.73 L1246.54 409.49 L1245.1 410.13 L1243.59 410.65 L1242.03 411.04 L1240.41 411.3 L1238.74 411.44 L1237.03 411.45 L1235.28 411.33 L1233.49 411.09 L1231.67 410.72 L1229.83 410.23 L1227.97 409.61 L1226.09 408.87 L1224.2 408.01 L1222.31 407.03" stroke-width="1.2" stroke-dasharray="45 2.5 2 2.5"/>
<path d="M1253.31 403.81 L1251.95 403.93 L1250.55 403.96 L1249.13 403.9 L1247.69 403.77 L1246.22 403.54 L1244.73 403.23 L1243.23 402.84 L1241.71 402.37 L1240.19 401.81 L1238.65 401.18 L1237.11 400.46 L1235.56 399.67 L1234.02 398.8 L1232.48 397.85 L1230.94 396.83 L1229.41 395.74 L1227.9 394.58 L1226.4 393.35 L1224.92 392.06 L1223.46 390.7 L1222.02 389.29 L1220.6 387.82 L1219.22 386.29 L1217.87 384.71 L1216.54 383.08 L1215.26 381.41 L1214.01 379.69 L1212.81 377.93 L1211.64 376.14 L1210.52 374.31 L1209.45 372.46 L1208.43 370.58 L1207.46 368.67 L1206.54 366.75 L1205.68 364.81 L1204.87 362.86 L1204.12 360.9 L1203.43 358.94 L1202.8 356.98 L1202.23 355.02 L1201.72 353.06 L1201.28 351.12 L1200.9 349.19 L1200.58 347.28 L1200.33 345.38 L1200.15 343.52 L1200.03 341.68 L1199.98 339.87 L1200 338.1 L1200.09 336.36 L1200.24 334.67 L1200.45 333.02 L1200.74 331.42 L1201.08 329.86 L1201.5 328.37 L1201.97 326.93 L1202.51 325.54 L1203.11 324.22 L1203.78 322.96 L1204.5 321.77" stroke-width="1.2" stroke-dasharray="45 2.5 2 2.5"/>
<path d="M1333 318 Q1330 322 1331 328" stroke-width="1.2" />
<path d="M1222.5 432.5 L1261.2 438.1 Q1264.5 439.5 1264.3 442 L1271.8 475.5 L1231.2 470" stroke-width="1.28" stroke-dasharray="40 2.5 2 2.5"/>
<path d="M1221.2 435 L1230 467.5 M1226.2 433.1 Q1232 440 1233.1 447.5 Q1234 460 1231.8 466.2" stroke-width="1.2" />
<path d="M1278.7 442.2 L1306.2 445.6 Q1309.5 447 1309.3 449.3 L1316.8 482 L1289.9 479.3" stroke-width="1.28" stroke-dasharray="40 2.5 2 2.5"/>
<path d="M1278.7 446.2 L1287.4 477.4 M1280 443 Q1289 452 1290 462 Q1290.5 472 1289.9 479.3" stroke-width="1.2" />
<ellipse cx="1226.2" cy="479.3" rx="6.5" ry="9.6" transform="rotate(-28 1226.2 479.3)" stroke-width="1.35" />
<ellipse cx="1283" cy="488.4" rx="6.5" ry="9.6" transform="rotate(-28 1283 488.4)" stroke-width="1.35" />
<path d="M1331 420 Q1332 424 1333.6 425.6" stroke-width="1.2" />
<path d="M1214.4 507.4 L1236 526 Q1249 540 1249.6 550 L1249.6 587.2 Q1248 590 1244.1 589.8 L1226.5 582.8 L1226.5 679.5 L1340 744" stroke-width="1.28" stroke-dasharray="45 2.5 2 2.5"/>
<path d="M1226.5 581.7 Q1236 566 1249.6 557.5" stroke-width="1.2" />
<ellipse cx="1299" cy="589.8" rx="1.4" ry="2.2" stroke-width="1.13"/>
<ellipse cx="1247.4" cy="626.7" rx="10.5" ry="14.8" transform="rotate(-22 1247.4 626.7)" stroke-width="1.35" />
<ellipse cx="1309" cy="644.8" rx="10.5" ry="14.8" transform="rotate(-22 1309 644.8)" stroke-width="1.35" />
<ellipse cx="1323" cy="703" rx="11" ry="15" transform="rotate(-22 1323 703)" stroke-width="1.35" />
<path d="M1332 640 Q1325 650 1326 662 Q1328 670 1333 674" stroke-width="1.2" />
</g>
</g></svg></body></html>
